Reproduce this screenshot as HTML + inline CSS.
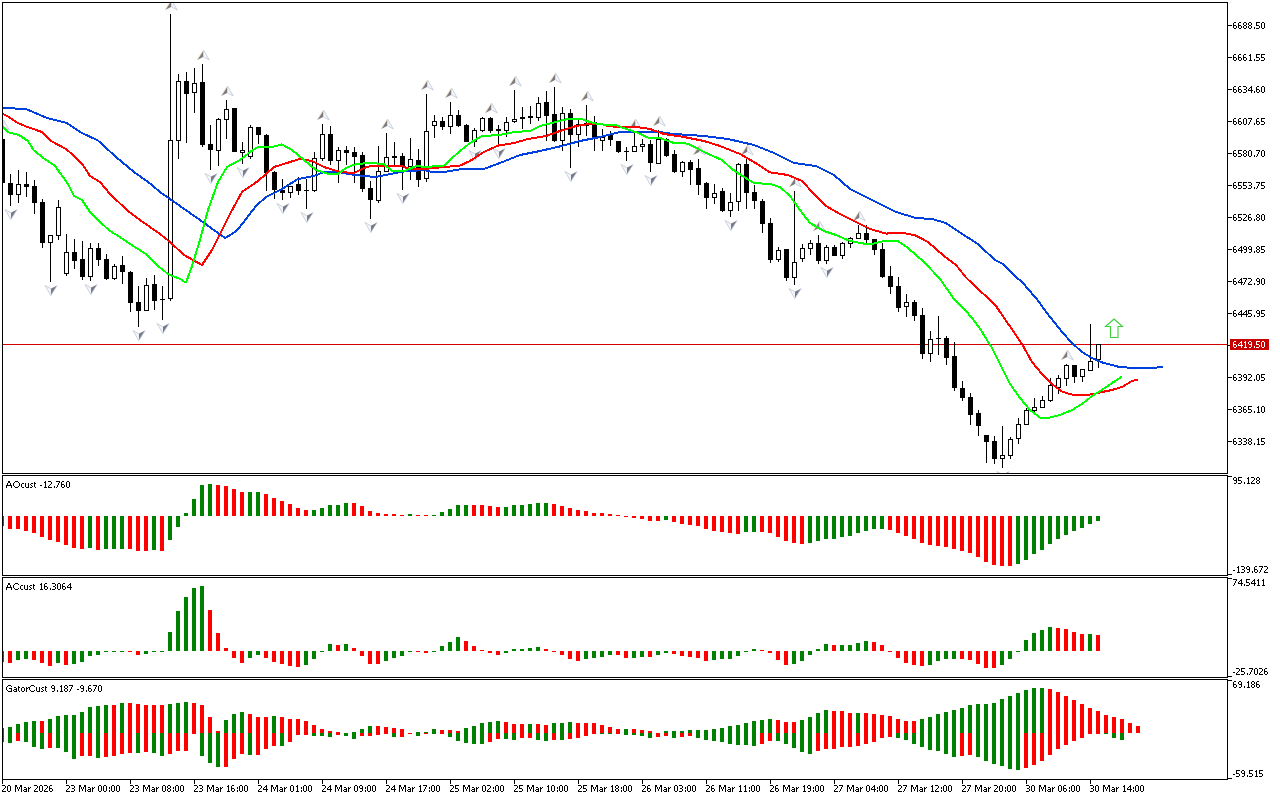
<!DOCTYPE html><html><head><meta charset="utf-8"><title>chart</title><style>html,body{margin:0;padding:0;background:#fff;overflow:hidden}svg{display:block}text{font-family:"Liberation Sans",sans-serif;font-size:10px;fill:#000}</style></head><body>
<svg width="1280" height="800" viewBox="0 0 1280 800">
<defs><clipPath id="cm"><rect x="3" y="3" width="1224" height="470"/></clipPath>
<g id="fu"><path d="M0,0 L-6.3,10 L0,6.8 Z" fill="#7a7a80"/><path d="M0,0 L5.8,10 L0,6.8" fill="#f4f6fa" stroke="#c2c6d8" stroke-width="0.8" stroke-linejoin="round"/><path d="M0,0 L-6.3,10" stroke="#f0d9b0" stroke-width="0.7" fill="none"/></g>
<g id="fd"><path d="M0,0 L6.3,-10 L0,-6.8 Z" fill="#7a7a80"/><path d="M0,0 L-5.8,-10 L0,-6.8" fill="#f4f6fa" stroke="#c2c6d8" stroke-width="0.8" stroke-linejoin="round"/><path d="M0,0 L6.3,-10" stroke="#a9c4f0" stroke-width="0.7" fill="none"/></g>
<path id="g30" d="M1,0h2v1h-2zM0,1h1v1h-1zM3,1h1v1h-1zM0,2h1v1h-1zM3,2h1v1h-1zM0,3h1v1h-1zM3,3h1v1h-1zM0,4h1v1h-1zM3,4h1v1h-1zM0,5h1v1h-1zM3,5h1v1h-1zM1,6h2v1h-2z"/><path id="g31" d="M2,0h1v1h-1zM1,1h2v1h-2zM2,2h1v1h-1zM2,3h1v1h-1zM2,4h1v1h-1zM2,5h1v1h-1zM1,6h3v1h-3z"/><path id="g32" d="M0,0h3v1h-3zM3,1h1v1h-1zM3,2h1v1h-1zM2,3h1v1h-1zM1,4h1v1h-1zM0,5h1v1h-1zM0,6h4v1h-4z"/><path id="g33" d="M0,0h3v1h-3zM3,1h1v1h-1zM3,2h1v1h-1zM1,3h2v1h-2zM3,4h1v1h-1zM3,5h1v1h-1zM0,6h3v1h-3z"/><path id="g34" d="M3,0h1v1h-1zM2,1h2v1h-2zM1,2h1v1h-1zM3,2h1v1h-1zM0,3h1v1h-1zM3,3h1v1h-1zM0,4h5v1h-5zM3,5h1v1h-1zM3,6h1v1h-1z"/><path id="g35" d="M0,0h4v1h-4zM0,1h1v1h-1zM0,2h1v1h-1zM0,3h3v1h-3zM3,4h1v1h-1zM3,5h1v1h-1zM0,6h3v1h-3z"/><path id="g36" d="M1,0h2v1h-2zM0,1h1v1h-1zM0,2h1v1h-1zM0,3h3v1h-3zM0,4h1v1h-1zM3,4h1v1h-1zM0,5h1v1h-1zM3,5h1v1h-1zM1,6h2v1h-2z"/><path id="g37" d="M0,0h4v1h-4zM3,1h1v1h-1zM2,2h1v1h-1zM2,3h1v1h-1zM1,4h1v1h-1zM1,5h1v1h-1zM0,6h1v1h-1z"/><path id="g38" d="M1,0h2v1h-2zM0,1h1v1h-1zM3,1h1v1h-1zM0,2h1v1h-1zM3,2h1v1h-1zM1,3h2v1h-2zM0,4h1v1h-1zM3,4h1v1h-1zM0,5h1v1h-1zM3,5h1v1h-1zM1,6h2v1h-2z"/><path id="g39" d="M1,0h2v1h-2zM0,1h1v1h-1zM3,1h1v1h-1zM0,2h1v1h-1zM3,2h1v1h-1zM1,3h3v1h-3zM3,4h1v1h-1zM3,5h1v1h-1zM1,6h2v1h-2z"/><path id="g2e" d="M1,5h1v1h-1zM1,6h1v1h-1z"/><path id="g2d" d="M0,4h2v1h-2z"/><path id="g3a" d="M1,2h1v1h-1zM1,3h1v1h-1zM1,5h1v1h-1zM1,6h1v1h-1z"/><path id="g4d" d="M0,0h2v1h-2zM5,0h2v1h-2zM0,1h2v1h-2zM5,1h2v1h-2zM0,2h1v1h-1zM2,2h1v1h-1zM4,2h1v1h-1zM6,2h1v1h-1zM0,3h1v1h-1zM2,3h1v1h-1zM4,3h1v1h-1zM6,3h1v1h-1zM0,4h1v1h-1zM3,4h1v1h-1zM6,4h1v1h-1zM0,5h1v1h-1zM3,5h1v1h-1zM6,5h1v1h-1zM0,6h1v1h-1zM6,6h1v1h-1z"/><path id="g61" d="M1,2h2v1h-2zM3,3h1v1h-1zM1,4h3v1h-3zM0,5h1v1h-1zM3,5h1v1h-1zM1,6h3v1h-3z"/><path id="g72" d="M0,2h1v1h-1zM2,2h1v1h-1zM0,3h2v1h-2zM0,4h1v1h-1zM0,5h1v1h-1zM0,6h1v1h-1z"/><path id="g41" d="M2,0h2v1h-2zM2,1h2v1h-2zM1,2h1v1h-1zM4,2h1v1h-1zM1,3h1v1h-1zM4,3h1v1h-1zM0,4h6v1h-6zM0,5h1v1h-1zM5,5h1v1h-1zM0,6h1v1h-1zM5,6h1v1h-1z"/><path id="g4f" d="M2,0h3v1h-3zM1,1h1v1h-1zM5,1h1v1h-1zM0,2h1v1h-1zM6,2h1v1h-1zM0,3h1v1h-1zM6,3h1v1h-1zM0,4h1v1h-1zM6,4h1v1h-1zM1,5h1v1h-1zM5,5h1v1h-1zM2,6h3v1h-3z"/><path id="g43" d="M2,0h3v1h-3zM1,1h1v1h-1zM5,1h1v1h-1zM0,2h1v1h-1zM0,3h1v1h-1zM0,4h1v1h-1zM1,5h1v1h-1zM5,5h1v1h-1zM2,6h3v1h-3z"/><path id="g47" d="M2,0h3v1h-3zM1,1h1v1h-1zM5,1h1v1h-1zM0,2h1v1h-1zM0,3h1v1h-1zM3,3h3v1h-3zM0,4h1v1h-1zM5,4h1v1h-1zM1,5h1v1h-1zM5,5h1v1h-1zM2,6h4v1h-4z"/><path id="g63" d="M1,2h2v1h-2zM0,3h1v1h-1zM0,4h1v1h-1zM0,5h1v1h-1zM1,6h2v1h-2z"/><path id="g75" d="M0,2h1v1h-1zM3,2h1v1h-1zM0,3h1v1h-1zM3,3h1v1h-1zM0,4h1v1h-1zM3,4h1v1h-1zM0,5h1v1h-1zM3,5h1v1h-1zM1,6h3v1h-3z"/><path id="g73" d="M1,2h2v1h-2zM0,3h1v1h-1zM1,4h1v1h-1zM2,5h1v1h-1zM0,6h2v1h-2z"/><path id="g74" d="M0,1h1v1h-1zM0,2h2v1h-2zM0,3h1v1h-1zM0,4h1v1h-1zM0,5h1v1h-1zM1,6h1v1h-1z"/><path id="g6f" d="M1,2h2v1h-2zM0,3h1v1h-1zM3,3h1v1h-1zM0,4h1v1h-1zM3,4h1v1h-1zM0,5h1v1h-1zM3,5h1v1h-1zM1,6h2v1h-2z"/>
</defs>
<rect width="1280" height="800" fill="#fff"/>
<g shape-rendering="crispEdges">
<rect x="2" y="2" width="1226" height="1" fill="#000"/>
<rect x="2" y="473" width="1226" height="1" fill="#000"/>
<rect x="2" y="2" width="1" height="472" fill="#000"/>
<rect x="1227" y="2" width="1" height="472" fill="#000"/>
<rect x="2" y="475" width="1226" height="1" fill="#000"/>
<rect x="2" y="575" width="1226" height="1" fill="#000"/>
<rect x="2" y="475" width="1" height="101" fill="#000"/>
<rect x="1227" y="475" width="1" height="101" fill="#000"/>
<rect x="2" y="577" width="1226" height="1" fill="#000"/>
<rect x="2" y="677" width="1226" height="1" fill="#000"/>
<rect x="2" y="577" width="1" height="101" fill="#000"/>
<rect x="1227" y="577" width="1" height="101" fill="#000"/>
<rect x="2" y="679" width="1226" height="1" fill="#000"/>
<rect x="2" y="779" width="1226" height="1" fill="#000"/>
<rect x="2" y="679" width="1" height="101" fill="#000"/>
<rect x="1227" y="679" width="1" height="101" fill="#000"/>
<rect x="3" y="344" width="1224" height="1" fill="#d40000"/>
<g clip-path="url(#cm)">
<rect x="2" y="134" width="1" height="49" fill="#000"/>
<rect x="0" y="139" width="5" height="44" fill="#000"/>
<rect x="10" y="174" width="1" height="32" fill="#000"/>
<rect x="8" y="183" width="5" height="12" fill="#000"/>
<rect x="18" y="170" width="1" height="33" fill="#000"/>
<rect x="16" y="184" width="5" height="11" fill="#000"/>
<rect x="17" y="185" width="3" height="9" fill="#fff"/>
<rect x="26" y="172" width="1" height="25" fill="#000"/>
<rect x="24" y="184" width="5" height="3" fill="#000"/>
<rect x="34" y="180" width="1" height="34" fill="#000"/>
<rect x="32" y="186" width="5" height="17" fill="#000"/>
<rect x="42" y="199" width="1" height="49" fill="#000"/>
<rect x="40" y="202" width="5" height="41" fill="#000"/>
<rect x="50" y="235" width="1" height="47" fill="#000"/>
<rect x="48" y="235" width="5" height="8" fill="#000"/>
<rect x="49" y="236" width="3" height="6" fill="#fff"/>
<rect x="58" y="200" width="1" height="40" fill="#000"/>
<rect x="56" y="207" width="5" height="29" fill="#000"/>
<rect x="57" y="208" width="3" height="27" fill="#fff"/>
<rect x="66" y="234" width="1" height="42" fill="#000"/>
<rect x="64" y="252" width="5" height="22" fill="#000"/>
<rect x="65" y="253" width="3" height="20" fill="#fff"/>
<rect x="74" y="239" width="1" height="30" fill="#000"/>
<rect x="72" y="252" width="5" height="9" fill="#000"/>
<rect x="82" y="241" width="1" height="39" fill="#000"/>
<rect x="80" y="259" width="5" height="18" fill="#000"/>
<rect x="90" y="243" width="1" height="38" fill="#000"/>
<rect x="88" y="248" width="5" height="29" fill="#000"/>
<rect x="89" y="249" width="3" height="27" fill="#fff"/>
<rect x="98" y="243" width="1" height="23" fill="#000"/>
<rect x="96" y="248" width="5" height="12" fill="#000"/>
<rect x="106" y="254" width="1" height="26" fill="#000"/>
<rect x="104" y="259" width="5" height="20" fill="#000"/>
<rect x="114" y="264" width="1" height="16" fill="#000"/>
<rect x="112" y="266" width="5" height="13" fill="#000"/>
<rect x="113" y="267" width="3" height="11" fill="#fff"/>
<rect x="122" y="256" width="1" height="28" fill="#000"/>
<rect x="120" y="265" width="5" height="7" fill="#000"/>
<rect x="130" y="271" width="1" height="41" fill="#000"/>
<rect x="128" y="272" width="5" height="31" fill="#000"/>
<rect x="138" y="286" width="1" height="41" fill="#000"/>
<rect x="136" y="302" width="5" height="9" fill="#000"/>
<rect x="146" y="278" width="1" height="33" fill="#000"/>
<rect x="144" y="285" width="5" height="26" fill="#000"/>
<rect x="145" y="286" width="3" height="24" fill="#fff"/>
<rect x="154" y="275" width="1" height="35" fill="#000"/>
<rect x="152" y="284" width="5" height="17" fill="#000"/>
<rect x="162" y="286" width="1" height="34" fill="#000"/>
<rect x="160" y="299" width="5" height="1" fill="#000"/>
<rect x="170" y="14" width="1" height="287" fill="#000"/>
<rect x="168" y="140" width="5" height="159" fill="#000"/>
<rect x="169" y="141" width="3" height="157" fill="#fff"/>
<rect x="178" y="74" width="1" height="85" fill="#000"/>
<rect x="176" y="81" width="5" height="60" fill="#000"/>
<rect x="177" y="82" width="3" height="58" fill="#fff"/>
<rect x="186" y="72" width="1" height="71" fill="#000"/>
<rect x="184" y="81" width="5" height="13" fill="#000"/>
<rect x="194" y="68" width="1" height="45" fill="#000"/>
<rect x="192" y="83" width="5" height="10" fill="#000"/>
<rect x="193" y="84" width="3" height="8" fill="#fff"/>
<rect x="202" y="64" width="1" height="83" fill="#000"/>
<rect x="200" y="82" width="5" height="63" fill="#000"/>
<rect x="210" y="125" width="1" height="45" fill="#000"/>
<rect x="208" y="144" width="5" height="6" fill="#000"/>
<rect x="218" y="118" width="1" height="48" fill="#000"/>
<rect x="216" y="119" width="5" height="32" fill="#000"/>
<rect x="217" y="120" width="3" height="30" fill="#fff"/>
<rect x="226" y="100" width="1" height="39" fill="#000"/>
<rect x="224" y="109" width="5" height="11" fill="#000"/>
<rect x="225" y="110" width="3" height="9" fill="#fff"/>
<rect x="234" y="108" width="1" height="44" fill="#000"/>
<rect x="232" y="108" width="5" height="44" fill="#000"/>
<rect x="242" y="142" width="1" height="22" fill="#000"/>
<rect x="240" y="150" width="5" height="3" fill="#000"/>
<rect x="241" y="151" width="3" height="1" fill="#fff"/>
<rect x="250" y="125" width="1" height="34" fill="#000"/>
<rect x="248" y="127" width="5" height="30" fill="#000"/>
<rect x="249" y="128" width="3" height="28" fill="#fff"/>
<rect x="258" y="127" width="1" height="17" fill="#000"/>
<rect x="256" y="127" width="5" height="8" fill="#000"/>
<rect x="266" y="134" width="1" height="57" fill="#000"/>
<rect x="264" y="135" width="5" height="38" fill="#000"/>
<rect x="274" y="171" width="1" height="28" fill="#000"/>
<rect x="272" y="172" width="5" height="18" fill="#000"/>
<rect x="282" y="179" width="1" height="21" fill="#000"/>
<rect x="280" y="190" width="5" height="3" fill="#000"/>
<rect x="290" y="186" width="1" height="12" fill="#000"/>
<rect x="288" y="186" width="5" height="7" fill="#000"/>
<rect x="289" y="187" width="3" height="5" fill="#fff"/>
<rect x="298" y="177" width="1" height="18" fill="#000"/>
<rect x="296" y="184" width="5" height="7" fill="#000"/>
<rect x="306" y="179" width="1" height="30" fill="#000"/>
<rect x="304" y="190" width="5" height="1" fill="#000"/>
<rect x="314" y="152" width="1" height="40" fill="#000"/>
<rect x="312" y="158" width="5" height="33" fill="#000"/>
<rect x="313" y="159" width="3" height="31" fill="#fff"/>
<rect x="322" y="124" width="1" height="37" fill="#000"/>
<rect x="320" y="134" width="5" height="25" fill="#000"/>
<rect x="321" y="135" width="3" height="23" fill="#fff"/>
<rect x="330" y="126" width="1" height="39" fill="#000"/>
<rect x="328" y="134" width="5" height="27" fill="#000"/>
<rect x="338" y="147" width="1" height="36" fill="#000"/>
<rect x="336" y="150" width="5" height="11" fill="#000"/>
<rect x="337" y="151" width="3" height="9" fill="#fff"/>
<rect x="346" y="146" width="1" height="19" fill="#000"/>
<rect x="344" y="150" width="5" height="3" fill="#000"/>
<rect x="354" y="147" width="1" height="36" fill="#000"/>
<rect x="352" y="152" width="5" height="5" fill="#000"/>
<rect x="362" y="152" width="1" height="40" fill="#000"/>
<rect x="360" y="155" width="5" height="34" fill="#000"/>
<rect x="370" y="181" width="1" height="38" fill="#000"/>
<rect x="368" y="188" width="5" height="12" fill="#000"/>
<rect x="378" y="146" width="1" height="57" fill="#000"/>
<rect x="376" y="171" width="5" height="30" fill="#000"/>
<rect x="377" y="172" width="3" height="28" fill="#fff"/>
<rect x="386" y="133" width="1" height="39" fill="#000"/>
<rect x="384" y="157" width="5" height="15" fill="#000"/>
<rect x="385" y="158" width="3" height="13" fill="#fff"/>
<rect x="394" y="142" width="1" height="23" fill="#000"/>
<rect x="392" y="156" width="5" height="2" fill="#000"/>
<rect x="402" y="153" width="1" height="37" fill="#000"/>
<rect x="400" y="156" width="5" height="11" fill="#000"/>
<rect x="410" y="138" width="1" height="42" fill="#000"/>
<rect x="408" y="159" width="5" height="8" fill="#000"/>
<rect x="409" y="160" width="3" height="6" fill="#fff"/>
<rect x="418" y="149" width="1" height="38" fill="#000"/>
<rect x="416" y="160" width="5" height="20" fill="#000"/>
<rect x="426" y="94" width="1" height="88" fill="#000"/>
<rect x="424" y="131" width="5" height="48" fill="#000"/>
<rect x="425" y="132" width="3" height="46" fill="#fff"/>
<rect x="434" y="115" width="1" height="23" fill="#000"/>
<rect x="432" y="121" width="5" height="5" fill="#000"/>
<rect x="433" y="122" width="3" height="3" fill="#fff"/>
<rect x="442" y="117" width="1" height="13" fill="#000"/>
<rect x="440" y="121" width="5" height="6" fill="#000"/>
<rect x="450" y="102" width="1" height="32" fill="#000"/>
<rect x="448" y="115" width="5" height="12" fill="#000"/>
<rect x="449" y="116" width="3" height="10" fill="#fff"/>
<rect x="458" y="110" width="1" height="17" fill="#000"/>
<rect x="456" y="115" width="5" height="11" fill="#000"/>
<rect x="466" y="124" width="1" height="18" fill="#000"/>
<rect x="464" y="125" width="5" height="17" fill="#000"/>
<rect x="474" y="128" width="1" height="19" fill="#000"/>
<rect x="472" y="130" width="5" height="12" fill="#000"/>
<rect x="473" y="131" width="3" height="10" fill="#fff"/>
<rect x="482" y="117" width="1" height="15" fill="#000"/>
<rect x="480" y="118" width="5" height="13" fill="#000"/>
<rect x="481" y="119" width="3" height="11" fill="#fff"/>
<rect x="490" y="117" width="1" height="16" fill="#000"/>
<rect x="488" y="118" width="5" height="13" fill="#000"/>
<rect x="498" y="125" width="1" height="20" fill="#000"/>
<rect x="496" y="129" width="5" height="2" fill="#000"/>
<rect x="506" y="117" width="1" height="20" fill="#000"/>
<rect x="504" y="122" width="5" height="9" fill="#000"/>
<rect x="505" y="123" width="3" height="7" fill="#fff"/>
<rect x="514" y="90" width="1" height="33" fill="#000"/>
<rect x="512" y="119" width="5" height="3" fill="#000"/>
<rect x="513" y="120" width="3" height="1" fill="#fff"/>
<rect x="522" y="107" width="1" height="22" fill="#000"/>
<rect x="520" y="117" width="5" height="2" fill="#000"/>
<rect x="530" y="106" width="1" height="18" fill="#000"/>
<rect x="528" y="116" width="5" height="2" fill="#000"/>
<rect x="538" y="97" width="1" height="24" fill="#000"/>
<rect x="536" y="103" width="5" height="15" fill="#000"/>
<rect x="537" y="104" width="3" height="13" fill="#fff"/>
<rect x="546" y="91" width="1" height="50" fill="#000"/>
<rect x="544" y="102" width="5" height="14" fill="#000"/>
<rect x="554" y="87" width="1" height="55" fill="#000"/>
<rect x="552" y="114" width="5" height="27" fill="#000"/>
<rect x="562" y="107" width="1" height="44" fill="#000"/>
<rect x="560" y="113" width="5" height="28" fill="#000"/>
<rect x="561" y="114" width="3" height="26" fill="#fff"/>
<rect x="570" y="109" width="1" height="59" fill="#000"/>
<rect x="568" y="113" width="5" height="22" fill="#000"/>
<rect x="578" y="120" width="1" height="27" fill="#000"/>
<rect x="576" y="124" width="5" height="11" fill="#000"/>
<rect x="577" y="125" width="3" height="9" fill="#fff"/>
<rect x="586" y="105" width="1" height="31" fill="#000"/>
<rect x="584" y="123" width="5" height="3" fill="#000"/>
<rect x="594" y="116" width="1" height="35" fill="#000"/>
<rect x="592" y="122" width="5" height="16" fill="#000"/>
<rect x="602" y="129" width="1" height="22" fill="#000"/>
<rect x="600" y="137" width="5" height="4" fill="#000"/>
<rect x="601" y="138" width="3" height="2" fill="#fff"/>
<rect x="610" y="131" width="1" height="15" fill="#000"/>
<rect x="608" y="135" width="5" height="5" fill="#000"/>
<rect x="618" y="141" width="1" height="12" fill="#000"/>
<rect x="616" y="141" width="5" height="11" fill="#000"/>
<rect x="626" y="147" width="1" height="14" fill="#000"/>
<rect x="624" y="151" width="5" height="1" fill="#000"/>
<rect x="634" y="133" width="1" height="19" fill="#000"/>
<rect x="632" y="146" width="5" height="6" fill="#000"/>
<rect x="633" y="147" width="3" height="4" fill="#fff"/>
<rect x="642" y="139" width="1" height="13" fill="#000"/>
<rect x="640" y="144" width="5" height="3" fill="#000"/>
<rect x="641" y="145" width="3" height="1" fill="#fff"/>
<rect x="650" y="140" width="1" height="32" fill="#000"/>
<rect x="648" y="144" width="5" height="19" fill="#000"/>
<rect x="658" y="130" width="1" height="34" fill="#000"/>
<rect x="656" y="139" width="5" height="25" fill="#000"/>
<rect x="657" y="140" width="3" height="23" fill="#fff"/>
<rect x="666" y="138" width="1" height="19" fill="#000"/>
<rect x="664" y="139" width="5" height="17" fill="#000"/>
<rect x="674" y="150" width="1" height="23" fill="#000"/>
<rect x="672" y="154" width="5" height="18" fill="#000"/>
<rect x="682" y="161" width="1" height="16" fill="#000"/>
<rect x="680" y="162" width="5" height="10" fill="#000"/>
<rect x="681" y="163" width="3" height="8" fill="#fff"/>
<rect x="690" y="160" width="1" height="25" fill="#000"/>
<rect x="688" y="162" width="5" height="8" fill="#000"/>
<rect x="698" y="159" width="1" height="36" fill="#000"/>
<rect x="696" y="168" width="5" height="17" fill="#000"/>
<rect x="706" y="182" width="1" height="27" fill="#000"/>
<rect x="704" y="183" width="5" height="15" fill="#000"/>
<rect x="714" y="184" width="1" height="20" fill="#000"/>
<rect x="712" y="193" width="5" height="5" fill="#000"/>
<rect x="713" y="194" width="3" height="3" fill="#fff"/>
<rect x="722" y="188" width="1" height="24" fill="#000"/>
<rect x="720" y="191" width="5" height="20" fill="#000"/>
<rect x="730" y="193" width="1" height="24" fill="#000"/>
<rect x="728" y="202" width="5" height="9" fill="#000"/>
<rect x="729" y="203" width="3" height="7" fill="#fff"/>
<rect x="738" y="163" width="1" height="48" fill="#000"/>
<rect x="736" y="164" width="5" height="38" fill="#000"/>
<rect x="737" y="165" width="3" height="36" fill="#fff"/>
<rect x="746" y="159" width="1" height="50" fill="#000"/>
<rect x="744" y="164" width="5" height="29" fill="#000"/>
<rect x="754" y="185" width="1" height="24" fill="#000"/>
<rect x="752" y="192" width="5" height="9" fill="#000"/>
<rect x="762" y="199" width="1" height="34" fill="#000"/>
<rect x="760" y="201" width="5" height="23" fill="#000"/>
<rect x="770" y="218" width="1" height="45" fill="#000"/>
<rect x="768" y="223" width="5" height="37" fill="#000"/>
<rect x="778" y="247" width="1" height="15" fill="#000"/>
<rect x="776" y="250" width="5" height="10" fill="#000"/>
<rect x="777" y="251" width="3" height="8" fill="#fff"/>
<rect x="786" y="249" width="1" height="32" fill="#000"/>
<rect x="784" y="249" width="5" height="29" fill="#000"/>
<rect x="794" y="191" width="1" height="94" fill="#000"/>
<rect x="792" y="262" width="5" height="16" fill="#000"/>
<rect x="793" y="263" width="3" height="14" fill="#fff"/>
<rect x="802" y="244" width="1" height="18" fill="#000"/>
<rect x="800" y="248" width="5" height="11" fill="#000"/>
<rect x="801" y="249" width="3" height="9" fill="#fff"/>
<rect x="810" y="240" width="1" height="15" fill="#000"/>
<rect x="808" y="243" width="5" height="6" fill="#000"/>
<rect x="809" y="244" width="3" height="4" fill="#fff"/>
<rect x="818" y="235" width="1" height="29" fill="#000"/>
<rect x="816" y="243" width="5" height="18" fill="#000"/>
<rect x="826" y="245" width="1" height="19" fill="#000"/>
<rect x="824" y="247" width="5" height="14" fill="#000"/>
<rect x="825" y="248" width="3" height="12" fill="#fff"/>
<rect x="834" y="245" width="1" height="11" fill="#000"/>
<rect x="832" y="247" width="5" height="9" fill="#000"/>
<rect x="842" y="242" width="1" height="17" fill="#000"/>
<rect x="840" y="243" width="5" height="13" fill="#000"/>
<rect x="841" y="244" width="3" height="11" fill="#fff"/>
<rect x="850" y="237" width="1" height="11" fill="#000"/>
<rect x="848" y="238" width="5" height="6" fill="#000"/>
<rect x="849" y="239" width="3" height="4" fill="#fff"/>
<rect x="858" y="225" width="1" height="14" fill="#000"/>
<rect x="856" y="233" width="5" height="6" fill="#000"/>
<rect x="857" y="234" width="3" height="4" fill="#fff"/>
<rect x="866" y="225" width="1" height="19" fill="#000"/>
<rect x="864" y="233" width="5" height="7" fill="#000"/>
<rect x="874" y="239" width="1" height="16" fill="#000"/>
<rect x="872" y="239" width="5" height="11" fill="#000"/>
<rect x="882" y="243" width="1" height="35" fill="#000"/>
<rect x="880" y="249" width="5" height="28" fill="#000"/>
<rect x="890" y="266" width="1" height="28" fill="#000"/>
<rect x="888" y="276" width="5" height="11" fill="#000"/>
<rect x="898" y="277" width="1" height="35" fill="#000"/>
<rect x="896" y="286" width="5" height="22" fill="#000"/>
<rect x="906" y="294" width="1" height="23" fill="#000"/>
<rect x="904" y="302" width="5" height="5" fill="#000"/>
<rect x="905" y="303" width="3" height="3" fill="#fff"/>
<rect x="914" y="300" width="1" height="21" fill="#000"/>
<rect x="912" y="302" width="5" height="14" fill="#000"/>
<rect x="922" y="308" width="1" height="51" fill="#000"/>
<rect x="920" y="315" width="5" height="39" fill="#000"/>
<rect x="930" y="331" width="1" height="31" fill="#000"/>
<rect x="928" y="339" width="5" height="15" fill="#000"/>
<rect x="929" y="340" width="3" height="13" fill="#fff"/>
<rect x="938" y="316" width="1" height="39" fill="#000"/>
<rect x="936" y="338" width="5" height="1" fill="#000"/>
<rect x="946" y="336" width="1" height="29" fill="#000"/>
<rect x="944" y="338" width="5" height="20" fill="#000"/>
<rect x="954" y="342" width="1" height="49" fill="#000"/>
<rect x="952" y="356" width="5" height="32" fill="#000"/>
<rect x="962" y="381" width="1" height="20" fill="#000"/>
<rect x="960" y="388" width="5" height="10" fill="#000"/>
<rect x="970" y="393" width="1" height="32" fill="#000"/>
<rect x="968" y="397" width="5" height="18" fill="#000"/>
<rect x="978" y="410" width="1" height="26" fill="#000"/>
<rect x="976" y="413" width="5" height="13" fill="#000"/>
<rect x="986" y="435" width="1" height="28" fill="#000"/>
<rect x="984" y="435" width="5" height="7" fill="#000"/>
<rect x="994" y="436" width="1" height="28" fill="#000"/>
<rect x="992" y="441" width="5" height="18" fill="#000"/>
<rect x="1002" y="426" width="1" height="42" fill="#000"/>
<rect x="1000" y="455" width="5" height="4" fill="#000"/>
<rect x="1001" y="456" width="3" height="2" fill="#fff"/>
<rect x="1010" y="437" width="1" height="22" fill="#000"/>
<rect x="1008" y="439" width="5" height="17" fill="#000"/>
<rect x="1009" y="440" width="3" height="15" fill="#fff"/>
<rect x="1018" y="418" width="1" height="26" fill="#000"/>
<rect x="1016" y="424" width="5" height="15" fill="#000"/>
<rect x="1017" y="425" width="3" height="13" fill="#fff"/>
<rect x="1026" y="408" width="1" height="17" fill="#000"/>
<rect x="1024" y="410" width="5" height="15" fill="#000"/>
<rect x="1025" y="411" width="3" height="13" fill="#fff"/>
<rect x="1034" y="398" width="1" height="15" fill="#000"/>
<rect x="1032" y="407" width="5" height="4" fill="#000"/>
<rect x="1033" y="408" width="3" height="2" fill="#fff"/>
<rect x="1042" y="396" width="1" height="12" fill="#000"/>
<rect x="1040" y="400" width="5" height="8" fill="#000"/>
<rect x="1041" y="401" width="3" height="6" fill="#fff"/>
<rect x="1050" y="378" width="1" height="24" fill="#000"/>
<rect x="1048" y="385" width="5" height="16" fill="#000"/>
<rect x="1049" y="386" width="3" height="14" fill="#fff"/>
<rect x="1058" y="375" width="1" height="19" fill="#000"/>
<rect x="1056" y="378" width="5" height="10" fill="#000"/>
<rect x="1057" y="379" width="3" height="8" fill="#fff"/>
<rect x="1066" y="364" width="1" height="22" fill="#000"/>
<rect x="1064" y="365" width="5" height="14" fill="#000"/>
<rect x="1065" y="366" width="3" height="12" fill="#fff"/>
<rect x="1074" y="365" width="1" height="18" fill="#000"/>
<rect x="1072" y="365" width="5" height="12" fill="#000"/>
<rect x="1082" y="369" width="1" height="13" fill="#000"/>
<rect x="1080" y="369" width="5" height="8" fill="#000"/>
<rect x="1081" y="370" width="3" height="6" fill="#fff"/>
<rect x="1090" y="324" width="1" height="47" fill="#000"/>
<rect x="1088" y="361" width="5" height="10" fill="#000"/>
<rect x="1089" y="362" width="3" height="8" fill="#fff"/>
<rect x="1098" y="344" width="1" height="24" fill="#000"/>
<rect x="1096" y="344" width="5" height="16" fill="#000"/>
<rect x="1097" y="345" width="3" height="14" fill="#fff"/>
</g>
<rect x="0" y="516" width="4" height="10" fill="#ff0000"/>
<rect x="8" y="516" width="4" height="13" fill="#ff0000"/>
<rect x="16" y="516" width="4" height="13" fill="#ff0000"/>
<rect x="24" y="516" width="4" height="15" fill="#ff0000"/>
<rect x="32" y="516" width="4" height="17" fill="#ff0000"/>
<rect x="40" y="516" width="4" height="21" fill="#ff0000"/>
<rect x="48" y="516" width="4" height="24" fill="#ff0000"/>
<rect x="56" y="516" width="4" height="26" fill="#ff0000"/>
<rect x="64" y="516" width="4" height="29" fill="#ff0000"/>
<rect x="72" y="516" width="4" height="32" fill="#ff0000"/>
<rect x="80" y="516" width="4" height="33" fill="#ff0000"/>
<rect x="88" y="516" width="4" height="32" fill="#008000"/>
<rect x="96" y="516" width="4" height="34" fill="#ff0000"/>
<rect x="104" y="516" width="4" height="33" fill="#008000"/>
<rect x="112" y="516" width="4" height="33" fill="#008000"/>
<rect x="120" y="516" width="4" height="33" fill="#008000"/>
<rect x="128" y="516" width="4" height="33" fill="#ff0000"/>
<rect x="136" y="516" width="4" height="35" fill="#ff0000"/>
<rect x="144" y="516" width="4" height="35" fill="#ff0000"/>
<rect x="152" y="516" width="4" height="34" fill="#008000"/>
<rect x="160" y="516" width="4" height="35" fill="#ff0000"/>
<rect x="168" y="516" width="4" height="24" fill="#008000"/>
<rect x="176" y="516" width="4" height="11" fill="#008000"/>
<rect x="184" y="513" width="4" height="3" fill="#008000"/>
<rect x="192" y="499" width="4" height="17" fill="#008000"/>
<rect x="200" y="485" width="4" height="31" fill="#008000"/>
<rect x="208" y="484" width="4" height="32" fill="#008000"/>
<rect x="216" y="485" width="4" height="31" fill="#ff0000"/>
<rect x="224" y="486" width="4" height="30" fill="#ff0000"/>
<rect x="232" y="489" width="4" height="27" fill="#ff0000"/>
<rect x="240" y="492" width="4" height="24" fill="#ff0000"/>
<rect x="248" y="492" width="4" height="24" fill="#008000"/>
<rect x="256" y="492" width="4" height="24" fill="#008000"/>
<rect x="264" y="494" width="4" height="22" fill="#ff0000"/>
<rect x="272" y="498" width="4" height="18" fill="#ff0000"/>
<rect x="280" y="501" width="4" height="15" fill="#ff0000"/>
<rect x="288" y="504" width="4" height="12" fill="#ff0000"/>
<rect x="296" y="508" width="4" height="8" fill="#ff0000"/>
<rect x="304" y="510" width="4" height="6" fill="#ff0000"/>
<rect x="312" y="510" width="4" height="6" fill="#008000"/>
<rect x="320" y="508" width="4" height="8" fill="#008000"/>
<rect x="328" y="505" width="4" height="11" fill="#008000"/>
<rect x="336" y="505" width="4" height="11" fill="#008000"/>
<rect x="344" y="503" width="4" height="13" fill="#008000"/>
<rect x="352" y="503" width="4" height="13" fill="#ff0000"/>
<rect x="360" y="506" width="4" height="10" fill="#ff0000"/>
<rect x="368" y="511" width="4" height="5" fill="#ff0000"/>
<rect x="376" y="513" width="4" height="3" fill="#ff0000"/>
<rect x="384" y="514" width="4" height="2" fill="#ff0000"/>
<rect x="392" y="514" width="4" height="2" fill="#ff0000"/>
<rect x="400" y="515" width="4" height="1" fill="#ff0000"/>
<rect x="408" y="514" width="4" height="2" fill="#008000"/>
<rect x="416" y="515" width="4" height="1" fill="#ff0000"/>
<rect x="424" y="515" width="4" height="1" fill="#ff0000"/>
<rect x="432" y="515" width="4" height="1" fill="#008000"/>
<rect x="440" y="512" width="4" height="4" fill="#008000"/>
<rect x="448" y="509" width="4" height="7" fill="#008000"/>
<rect x="456" y="505" width="4" height="11" fill="#008000"/>
<rect x="464" y="505" width="4" height="11" fill="#008000"/>
<rect x="472" y="505" width="4" height="11" fill="#ff0000"/>
<rect x="480" y="505" width="4" height="11" fill="#ff0000"/>
<rect x="488" y="506" width="4" height="10" fill="#ff0000"/>
<rect x="496" y="507" width="4" height="9" fill="#ff0000"/>
<rect x="504" y="507" width="4" height="9" fill="#008000"/>
<rect x="512" y="505" width="4" height="11" fill="#008000"/>
<rect x="520" y="505" width="4" height="11" fill="#008000"/>
<rect x="528" y="504" width="4" height="12" fill="#008000"/>
<rect x="536" y="503" width="4" height="13" fill="#008000"/>
<rect x="544" y="503" width="4" height="13" fill="#008000"/>
<rect x="552" y="504" width="4" height="12" fill="#ff0000"/>
<rect x="560" y="506" width="4" height="10" fill="#ff0000"/>
<rect x="568" y="508" width="4" height="8" fill="#ff0000"/>
<rect x="576" y="510" width="4" height="6" fill="#ff0000"/>
<rect x="584" y="511" width="4" height="5" fill="#ff0000"/>
<rect x="592" y="513" width="4" height="3" fill="#ff0000"/>
<rect x="600" y="513" width="4" height="3" fill="#ff0000"/>
<rect x="608" y="514" width="4" height="2" fill="#ff0000"/>
<rect x="616" y="515" width="4" height="1" fill="#ff0000"/>
<rect x="624" y="516" width="4" height="1" fill="#ff0000"/>
<rect x="632" y="516" width="4" height="2" fill="#ff0000"/>
<rect x="640" y="516" width="4" height="3" fill="#ff0000"/>
<rect x="648" y="516" width="4" height="5" fill="#ff0000"/>
<rect x="656" y="516" width="4" height="5" fill="#ff0000"/>
<rect x="664" y="516" width="4" height="4" fill="#008000"/>
<rect x="672" y="516" width="4" height="6" fill="#ff0000"/>
<rect x="680" y="516" width="4" height="8" fill="#ff0000"/>
<rect x="688" y="516" width="4" height="9" fill="#ff0000"/>
<rect x="696" y="516" width="4" height="10" fill="#ff0000"/>
<rect x="704" y="516" width="4" height="13" fill="#ff0000"/>
<rect x="712" y="516" width="4" height="15" fill="#ff0000"/>
<rect x="720" y="516" width="4" height="16" fill="#ff0000"/>
<rect x="728" y="516" width="4" height="17" fill="#ff0000"/>
<rect x="736" y="516" width="4" height="18" fill="#ff0000"/>
<rect x="744" y="516" width="4" height="16" fill="#008000"/>
<rect x="752" y="516" width="4" height="16" fill="#008000"/>
<rect x="760" y="516" width="4" height="16" fill="#ff0000"/>
<rect x="768" y="516" width="4" height="17" fill="#ff0000"/>
<rect x="776" y="516" width="4" height="21" fill="#ff0000"/>
<rect x="784" y="516" width="4" height="25" fill="#ff0000"/>
<rect x="792" y="516" width="4" height="27" fill="#ff0000"/>
<rect x="800" y="516" width="4" height="28" fill="#ff0000"/>
<rect x="808" y="516" width="4" height="27" fill="#008000"/>
<rect x="816" y="516" width="4" height="25" fill="#008000"/>
<rect x="824" y="516" width="4" height="23" fill="#008000"/>
<rect x="832" y="516" width="4" height="23" fill="#008000"/>
<rect x="840" y="516" width="4" height="21" fill="#008000"/>
<rect x="848" y="516" width="4" height="20" fill="#008000"/>
<rect x="856" y="516" width="4" height="17" fill="#008000"/>
<rect x="864" y="516" width="4" height="15" fill="#008000"/>
<rect x="872" y="516" width="4" height="13" fill="#008000"/>
<rect x="880" y="516" width="4" height="13" fill="#008000"/>
<rect x="888" y="516" width="4" height="14" fill="#ff0000"/>
<rect x="896" y="516" width="4" height="17" fill="#ff0000"/>
<rect x="904" y="516" width="4" height="20" fill="#ff0000"/>
<rect x="912" y="516" width="4" height="23" fill="#ff0000"/>
<rect x="920" y="516" width="4" height="27" fill="#ff0000"/>
<rect x="928" y="516" width="4" height="29" fill="#ff0000"/>
<rect x="936" y="516" width="4" height="30" fill="#ff0000"/>
<rect x="944" y="516" width="4" height="31" fill="#ff0000"/>
<rect x="952" y="516" width="4" height="33" fill="#ff0000"/>
<rect x="960" y="516" width="4" height="35" fill="#ff0000"/>
<rect x="968" y="516" width="4" height="37" fill="#ff0000"/>
<rect x="976" y="516" width="4" height="41" fill="#ff0000"/>
<rect x="984" y="516" width="4" height="46" fill="#ff0000"/>
<rect x="992" y="516" width="4" height="49" fill="#ff0000"/>
<rect x="1000" y="516" width="4" height="50" fill="#ff0000"/>
<rect x="1008" y="516" width="4" height="50" fill="#ff0000"/>
<rect x="1016" y="516" width="4" height="48" fill="#008000"/>
<rect x="1024" y="516" width="4" height="44" fill="#008000"/>
<rect x="1032" y="516" width="4" height="38" fill="#008000"/>
<rect x="1040" y="516" width="4" height="34" fill="#008000"/>
<rect x="1048" y="516" width="4" height="28" fill="#008000"/>
<rect x="1056" y="516" width="4" height="23" fill="#008000"/>
<rect x="1064" y="516" width="4" height="19" fill="#008000"/>
<rect x="1072" y="516" width="4" height="15" fill="#008000"/>
<rect x="1080" y="516" width="4" height="12" fill="#008000"/>
<rect x="1088" y="516" width="4" height="8" fill="#008000"/>
<rect x="1096" y="516" width="4" height="5" fill="#008000"/>
<rect x="0" y="651" width="4" height="11" fill="#ff0000"/>
<rect x="8" y="651" width="4" height="12" fill="#ff0000"/>
<rect x="16" y="651" width="4" height="9" fill="#008000"/>
<rect x="24" y="651" width="4" height="8" fill="#008000"/>
<rect x="32" y="651" width="4" height="9" fill="#ff0000"/>
<rect x="40" y="651" width="4" height="12" fill="#ff0000"/>
<rect x="48" y="651" width="4" height="15" fill="#ff0000"/>
<rect x="56" y="651" width="4" height="12" fill="#008000"/>
<rect x="64" y="651" width="4" height="14" fill="#ff0000"/>
<rect x="72" y="651" width="4" height="13" fill="#008000"/>
<rect x="80" y="651" width="4" height="11" fill="#008000"/>
<rect x="88" y="651" width="4" height="5" fill="#008000"/>
<rect x="96" y="651" width="4" height="4" fill="#008000"/>
<rect x="104" y="651" width="4" height="1" fill="#008000"/>
<rect x="112" y="651" width="4" height="1" fill="#008000"/>
<rect x="120" y="651" width="4" height="1" fill="#008000"/>
<rect x="128" y="651" width="4" height="1" fill="#ff0000"/>
<rect x="136" y="651" width="4" height="4" fill="#ff0000"/>
<rect x="144" y="651" width="4" height="3" fill="#008000"/>
<rect x="152" y="651" width="4" height="1" fill="#008000"/>
<rect x="160" y="651" width="4" height="1" fill="#008000"/>
<rect x="168" y="632" width="4" height="19" fill="#008000"/>
<rect x="176" y="611" width="4" height="40" fill="#008000"/>
<rect x="184" y="597" width="4" height="54" fill="#008000"/>
<rect x="192" y="588" width="4" height="63" fill="#008000"/>
<rect x="200" y="586" width="4" height="65" fill="#008000"/>
<rect x="208" y="610" width="4" height="41" fill="#ff0000"/>
<rect x="216" y="633" width="4" height="18" fill="#ff0000"/>
<rect x="224" y="648" width="4" height="3" fill="#ff0000"/>
<rect x="232" y="651" width="4" height="7" fill="#ff0000"/>
<rect x="240" y="651" width="4" height="12" fill="#ff0000"/>
<rect x="248" y="651" width="4" height="7" fill="#008000"/>
<rect x="256" y="651" width="4" height="4" fill="#008000"/>
<rect x="264" y="651" width="4" height="7" fill="#ff0000"/>
<rect x="272" y="651" width="4" height="11" fill="#ff0000"/>
<rect x="280" y="651" width="4" height="13" fill="#ff0000"/>
<rect x="288" y="651" width="4" height="15" fill="#ff0000"/>
<rect x="296" y="651" width="4" height="16" fill="#ff0000"/>
<rect x="304" y="651" width="4" height="14" fill="#008000"/>
<rect x="312" y="651" width="4" height="8" fill="#008000"/>
<rect x="320" y="651" width="4" height="1" fill="#008000"/>
<rect x="328" y="644" width="4" height="7" fill="#008000"/>
<rect x="336" y="645" width="4" height="6" fill="#ff0000"/>
<rect x="344" y="644" width="4" height="7" fill="#008000"/>
<rect x="352" y="648" width="4" height="3" fill="#ff0000"/>
<rect x="360" y="651" width="4" height="5" fill="#ff0000"/>
<rect x="368" y="651" width="4" height="13" fill="#ff0000"/>
<rect x="376" y="651" width="4" height="13" fill="#ff0000"/>
<rect x="384" y="651" width="4" height="10" fill="#008000"/>
<rect x="392" y="651" width="4" height="7" fill="#008000"/>
<rect x="400" y="651" width="4" height="5" fill="#008000"/>
<rect x="408" y="651" width="4" height="1" fill="#008000"/>
<rect x="416" y="651" width="4" height="1" fill="#ff0000"/>
<rect x="424" y="651" width="4" height="2" fill="#ff0000"/>
<rect x="432" y="651" width="4" height="1" fill="#008000"/>
<rect x="440" y="646" width="4" height="5" fill="#008000"/>
<rect x="448" y="642" width="4" height="9" fill="#008000"/>
<rect x="456" y="637" width="4" height="14" fill="#008000"/>
<rect x="464" y="641" width="4" height="10" fill="#ff0000"/>
<rect x="472" y="646" width="4" height="5" fill="#ff0000"/>
<rect x="480" y="650" width="4" height="1" fill="#ff0000"/>
<rect x="488" y="651" width="4" height="2" fill="#ff0000"/>
<rect x="496" y="651" width="4" height="4" fill="#ff0000"/>
<rect x="504" y="651" width="4" height="2" fill="#008000"/>
<rect x="512" y="649" width="4" height="2" fill="#008000"/>
<rect x="520" y="649" width="4" height="2" fill="#008000"/>
<rect x="528" y="648" width="4" height="3" fill="#008000"/>
<rect x="536" y="647" width="4" height="4" fill="#008000"/>
<rect x="544" y="649" width="4" height="2" fill="#ff0000"/>
<rect x="552" y="651" width="4" height="1" fill="#ff0000"/>
<rect x="560" y="651" width="4" height="4" fill="#ff0000"/>
<rect x="568" y="651" width="4" height="8" fill="#ff0000"/>
<rect x="576" y="651" width="4" height="10" fill="#ff0000"/>
<rect x="584" y="651" width="4" height="8" fill="#008000"/>
<rect x="592" y="651" width="4" height="7" fill="#008000"/>
<rect x="600" y="651" width="4" height="6" fill="#008000"/>
<rect x="608" y="651" width="4" height="4" fill="#008000"/>
<rect x="616" y="651" width="4" height="4" fill="#ff0000"/>
<rect x="624" y="651" width="4" height="7" fill="#ff0000"/>
<rect x="632" y="651" width="4" height="7" fill="#008000"/>
<rect x="640" y="651" width="4" height="6" fill="#008000"/>
<rect x="648" y="651" width="4" height="6" fill="#ff0000"/>
<rect x="656" y="651" width="4" height="4" fill="#008000"/>
<rect x="664" y="651" width="4" height="2" fill="#008000"/>
<rect x="672" y="651" width="4" height="3" fill="#ff0000"/>
<rect x="680" y="651" width="4" height="5" fill="#ff0000"/>
<rect x="688" y="651" width="4" height="6" fill="#ff0000"/>
<rect x="696" y="651" width="4" height="7" fill="#ff0000"/>
<rect x="704" y="651" width="4" height="10" fill="#ff0000"/>
<rect x="712" y="651" width="4" height="9" fill="#008000"/>
<rect x="720" y="651" width="4" height="8" fill="#008000"/>
<rect x="728" y="651" width="4" height="8" fill="#008000"/>
<rect x="736" y="651" width="4" height="5" fill="#008000"/>
<rect x="744" y="651" width="4" height="1" fill="#008000"/>
<rect x="752" y="649" width="4" height="2" fill="#008000"/>
<rect x="760" y="650" width="4" height="1" fill="#ff0000"/>
<rect x="768" y="651" width="4" height="2" fill="#ff0000"/>
<rect x="776" y="651" width="4" height="9" fill="#ff0000"/>
<rect x="784" y="651" width="4" height="14" fill="#ff0000"/>
<rect x="792" y="651" width="4" height="13" fill="#008000"/>
<rect x="800" y="651" width="4" height="10" fill="#008000"/>
<rect x="808" y="651" width="4" height="4" fill="#008000"/>
<rect x="816" y="649" width="4" height="2" fill="#008000"/>
<rect x="824" y="644" width="4" height="7" fill="#008000"/>
<rect x="832" y="645" width="4" height="6" fill="#ff0000"/>
<rect x="840" y="645" width="4" height="6" fill="#008000"/>
<rect x="848" y="645" width="4" height="6" fill="#008000"/>
<rect x="856" y="643" width="4" height="8" fill="#008000"/>
<rect x="864" y="641" width="4" height="10" fill="#008000"/>
<rect x="872" y="642" width="4" height="9" fill="#ff0000"/>
<rect x="880" y="645" width="4" height="6" fill="#ff0000"/>
<rect x="888" y="651" width="4" height="1" fill="#ff0000"/>
<rect x="896" y="651" width="4" height="7" fill="#ff0000"/>
<rect x="904" y="651" width="4" height="12" fill="#ff0000"/>
<rect x="912" y="651" width="4" height="14" fill="#ff0000"/>
<rect x="920" y="651" width="4" height="15" fill="#ff0000"/>
<rect x="928" y="651" width="4" height="14" fill="#008000"/>
<rect x="936" y="651" width="4" height="10" fill="#008000"/>
<rect x="944" y="651" width="4" height="8" fill="#008000"/>
<rect x="952" y="651" width="4" height="8" fill="#008000"/>
<rect x="960" y="651" width="4" height="8" fill="#ff0000"/>
<rect x="968" y="651" width="4" height="9" fill="#ff0000"/>
<rect x="976" y="651" width="4" height="13" fill="#ff0000"/>
<rect x="984" y="651" width="4" height="17" fill="#ff0000"/>
<rect x="992" y="651" width="4" height="17" fill="#ff0000"/>
<rect x="1000" y="651" width="4" height="14" fill="#008000"/>
<rect x="1008" y="651" width="4" height="8" fill="#008000"/>
<rect x="1016" y="651" width="4" height="1" fill="#008000"/>
<rect x="1024" y="640" width="4" height="11" fill="#008000"/>
<rect x="1032" y="633" width="4" height="18" fill="#008000"/>
<rect x="1040" y="630" width="4" height="21" fill="#008000"/>
<rect x="1048" y="627" width="4" height="24" fill="#008000"/>
<rect x="1056" y="628" width="4" height="23" fill="#ff0000"/>
<rect x="1064" y="629" width="4" height="22" fill="#ff0000"/>
<rect x="1072" y="632" width="4" height="19" fill="#ff0000"/>
<rect x="1080" y="634" width="4" height="17" fill="#ff0000"/>
<rect x="1088" y="634" width="4" height="17" fill="#008000"/>
<rect x="1096" y="635" width="4" height="16" fill="#ff0000"/>
<rect x="0" y="728" width="4" height="5" fill="#ff0000"/>
<rect x="0" y="733" width="4" height="9" fill="#008000"/>
<rect x="8" y="727" width="4" height="6" fill="#008000"/>
<rect x="8" y="733" width="4" height="10" fill="#008000"/>
<rect x="16" y="724" width="4" height="9" fill="#008000"/>
<rect x="16" y="733" width="4" height="8" fill="#ff0000"/>
<rect x="24" y="722" width="4" height="11" fill="#008000"/>
<rect x="24" y="733" width="4" height="9" fill="#008000"/>
<rect x="32" y="721" width="4" height="12" fill="#008000"/>
<rect x="32" y="733" width="4" height="14" fill="#008000"/>
<rect x="40" y="721" width="4" height="12" fill="#ff0000"/>
<rect x="40" y="733" width="4" height="16" fill="#008000"/>
<rect x="48" y="719" width="4" height="14" fill="#008000"/>
<rect x="48" y="733" width="4" height="15" fill="#ff0000"/>
<rect x="56" y="716" width="4" height="17" fill="#008000"/>
<rect x="56" y="733" width="4" height="15" fill="#008000"/>
<rect x="64" y="715" width="4" height="18" fill="#008000"/>
<rect x="64" y="733" width="4" height="19" fill="#008000"/>
<rect x="72" y="715" width="4" height="18" fill="#008000"/>
<rect x="72" y="733" width="4" height="26" fill="#008000"/>
<rect x="80" y="712" width="4" height="21" fill="#008000"/>
<rect x="80" y="733" width="4" height="23" fill="#ff0000"/>
<rect x="88" y="707" width="4" height="26" fill="#008000"/>
<rect x="88" y="733" width="4" height="23" fill="#ff0000"/>
<rect x="96" y="706" width="4" height="27" fill="#008000"/>
<rect x="96" y="733" width="4" height="25" fill="#008000"/>
<rect x="104" y="705" width="4" height="28" fill="#008000"/>
<rect x="104" y="733" width="4" height="24" fill="#ff0000"/>
<rect x="112" y="705" width="4" height="28" fill="#ff0000"/>
<rect x="112" y="733" width="4" height="23" fill="#ff0000"/>
<rect x="120" y="703" width="4" height="30" fill="#008000"/>
<rect x="120" y="733" width="4" height="21" fill="#ff0000"/>
<rect x="128" y="703" width="4" height="30" fill="#ff0000"/>
<rect x="128" y="733" width="4" height="20" fill="#ff0000"/>
<rect x="136" y="704" width="4" height="29" fill="#ff0000"/>
<rect x="136" y="733" width="4" height="20" fill="#008000"/>
<rect x="144" y="705" width="4" height="28" fill="#ff0000"/>
<rect x="144" y="733" width="4" height="19" fill="#ff0000"/>
<rect x="152" y="705" width="4" height="28" fill="#ff0000"/>
<rect x="152" y="733" width="4" height="20" fill="#008000"/>
<rect x="160" y="705" width="4" height="28" fill="#ff0000"/>
<rect x="160" y="733" width="4" height="23" fill="#008000"/>
<rect x="168" y="704" width="4" height="29" fill="#008000"/>
<rect x="168" y="733" width="4" height="21" fill="#ff0000"/>
<rect x="176" y="703" width="4" height="30" fill="#008000"/>
<rect x="176" y="733" width="4" height="18" fill="#ff0000"/>
<rect x="184" y="702" width="4" height="31" fill="#008000"/>
<rect x="184" y="733" width="4" height="18" fill="#ff0000"/>
<rect x="192" y="703" width="4" height="30" fill="#ff0000"/>
<rect x="192" y="733" width="4" height="1" fill="#ff0000"/>
<rect x="200" y="705" width="4" height="28" fill="#ff0000"/>
<rect x="200" y="733" width="4" height="23" fill="#008000"/>
<rect x="208" y="717" width="4" height="16" fill="#ff0000"/>
<rect x="208" y="733" width="4" height="30" fill="#008000"/>
<rect x="216" y="731" width="4" height="2" fill="#ff0000"/>
<rect x="216" y="733" width="4" height="34" fill="#008000"/>
<rect x="224" y="720" width="4" height="13" fill="#008000"/>
<rect x="224" y="733" width="4" height="34" fill="#ff0000"/>
<rect x="232" y="714" width="4" height="19" fill="#008000"/>
<rect x="232" y="733" width="4" height="26" fill="#ff0000"/>
<rect x="240" y="712" width="4" height="21" fill="#008000"/>
<rect x="240" y="733" width="4" height="21" fill="#ff0000"/>
<rect x="248" y="714" width="4" height="19" fill="#ff0000"/>
<rect x="248" y="733" width="4" height="22" fill="#008000"/>
<rect x="256" y="717" width="4" height="16" fill="#ff0000"/>
<rect x="256" y="733" width="4" height="22" fill="#ff0000"/>
<rect x="264" y="717" width="4" height="16" fill="#ff0000"/>
<rect x="264" y="733" width="4" height="16" fill="#ff0000"/>
<rect x="272" y="716" width="4" height="17" fill="#008000"/>
<rect x="272" y="733" width="4" height="13" fill="#ff0000"/>
<rect x="280" y="717" width="4" height="16" fill="#ff0000"/>
<rect x="280" y="733" width="4" height="13" fill="#008000"/>
<rect x="288" y="719" width="4" height="14" fill="#ff0000"/>
<rect x="288" y="733" width="4" height="9" fill="#ff0000"/>
<rect x="296" y="719" width="4" height="14" fill="#ff0000"/>
<rect x="296" y="733" width="4" height="2" fill="#ff0000"/>
<rect x="304" y="721" width="4" height="12" fill="#ff0000"/>
<rect x="304" y="733" width="4" height="2" fill="#ff0000"/>
<rect x="312" y="725" width="4" height="8" fill="#ff0000"/>
<rect x="312" y="733" width="4" height="3" fill="#008000"/>
<rect x="320" y="729" width="4" height="4" fill="#ff0000"/>
<rect x="320" y="733" width="4" height="3" fill="#008000"/>
<rect x="328" y="731" width="4" height="2" fill="#ff0000"/>
<rect x="328" y="733" width="4" height="4" fill="#008000"/>
<rect x="336" y="732" width="4" height="1" fill="#ff0000"/>
<rect x="336" y="733" width="4" height="2" fill="#ff0000"/>
<rect x="344" y="733" width="4" height="3" fill="#008000"/>
<rect x="352" y="732" width="4" height="1" fill="#008000"/>
<rect x="352" y="733" width="4" height="6" fill="#008000"/>
<rect x="360" y="729" width="4" height="4" fill="#008000"/>
<rect x="360" y="733" width="4" height="3" fill="#ff0000"/>
<rect x="368" y="726" width="4" height="7" fill="#008000"/>
<rect x="368" y="733" width="4" height="3" fill="#ff0000"/>
<rect x="376" y="726" width="4" height="7" fill="#ff0000"/>
<rect x="376" y="733" width="4" height="2" fill="#ff0000"/>
<rect x="384" y="727" width="4" height="6" fill="#ff0000"/>
<rect x="384" y="733" width="4" height="1" fill="#ff0000"/>
<rect x="392" y="728" width="4" height="5" fill="#ff0000"/>
<rect x="392" y="733" width="4" height="4" fill="#008000"/>
<rect x="400" y="729" width="4" height="4" fill="#ff0000"/>
<rect x="400" y="733" width="4" height="4" fill="#ff0000"/>
<rect x="408" y="733" width="4" height="1" fill="#ff0000"/>
<rect x="416" y="732" width="4" height="1" fill="#008000"/>
<rect x="416" y="733" width="4" height="3" fill="#008000"/>
<rect x="424" y="732" width="4" height="1" fill="#008000"/>
<rect x="424" y="733" width="4" height="1" fill="#ff0000"/>
<rect x="432" y="729" width="4" height="4" fill="#008000"/>
<rect x="432" y="733" width="4" height="1" fill="#008000"/>
<rect x="440" y="730" width="4" height="3" fill="#ff0000"/>
<rect x="440" y="733" width="4" height="1" fill="#ff0000"/>
<rect x="448" y="730" width="4" height="3" fill="#ff0000"/>
<rect x="448" y="733" width="4" height="4" fill="#008000"/>
<rect x="456" y="731" width="4" height="2" fill="#ff0000"/>
<rect x="456" y="733" width="4" height="8" fill="#008000"/>
<rect x="464" y="728" width="4" height="5" fill="#008000"/>
<rect x="464" y="733" width="4" height="10" fill="#008000"/>
<rect x="472" y="726" width="4" height="7" fill="#008000"/>
<rect x="472" y="733" width="4" height="11" fill="#008000"/>
<rect x="480" y="723" width="4" height="10" fill="#008000"/>
<rect x="480" y="733" width="4" height="11" fill="#008000"/>
<rect x="488" y="722" width="4" height="11" fill="#008000"/>
<rect x="488" y="733" width="4" height="9" fill="#ff0000"/>
<rect x="496" y="721" width="4" height="12" fill="#008000"/>
<rect x="496" y="733" width="4" height="6" fill="#ff0000"/>
<rect x="504" y="722" width="4" height="11" fill="#ff0000"/>
<rect x="504" y="733" width="4" height="6" fill="#008000"/>
<rect x="512" y="724" width="4" height="9" fill="#ff0000"/>
<rect x="512" y="733" width="4" height="7" fill="#008000"/>
<rect x="520" y="724" width="4" height="9" fill="#ff0000"/>
<rect x="520" y="733" width="4" height="5" fill="#ff0000"/>
<rect x="528" y="724" width="4" height="9" fill="#008000"/>
<rect x="528" y="733" width="4" height="5" fill="#ff0000"/>
<rect x="536" y="724" width="4" height="9" fill="#ff0000"/>
<rect x="536" y="733" width="4" height="7" fill="#008000"/>
<rect x="544" y="725" width="4" height="8" fill="#ff0000"/>
<rect x="544" y="733" width="4" height="8" fill="#008000"/>
<rect x="552" y="723" width="4" height="10" fill="#008000"/>
<rect x="552" y="733" width="4" height="7" fill="#ff0000"/>
<rect x="560" y="723" width="4" height="10" fill="#008000"/>
<rect x="560" y="733" width="4" height="7" fill="#008000"/>
<rect x="568" y="722" width="4" height="11" fill="#008000"/>
<rect x="568" y="733" width="4" height="6" fill="#ff0000"/>
<rect x="576" y="723" width="4" height="10" fill="#ff0000"/>
<rect x="576" y="733" width="4" height="5" fill="#ff0000"/>
<rect x="584" y="723" width="4" height="10" fill="#ff0000"/>
<rect x="584" y="733" width="4" height="3" fill="#ff0000"/>
<rect x="592" y="723" width="4" height="10" fill="#ff0000"/>
<rect x="592" y="733" width="4" height="1" fill="#ff0000"/>
<rect x="600" y="725" width="4" height="8" fill="#ff0000"/>
<rect x="600" y="733" width="4" height="1" fill="#008000"/>
<rect x="608" y="727" width="4" height="6" fill="#ff0000"/>
<rect x="608" y="733" width="4" height="1" fill="#008000"/>
<rect x="616" y="729" width="4" height="4" fill="#ff0000"/>
<rect x="616" y="733" width="4" height="1" fill="#ff0000"/>
<rect x="624" y="729" width="4" height="4" fill="#008000"/>
<rect x="624" y="733" width="4" height="2" fill="#008000"/>
<rect x="632" y="729" width="4" height="4" fill="#ff0000"/>
<rect x="632" y="733" width="4" height="2" fill="#008000"/>
<rect x="640" y="730" width="4" height="3" fill="#ff0000"/>
<rect x="640" y="733" width="4" height="3" fill="#008000"/>
<rect x="648" y="731" width="4" height="2" fill="#ff0000"/>
<rect x="648" y="733" width="4" height="5" fill="#008000"/>
<rect x="656" y="733" width="4" height="4" fill="#ff0000"/>
<rect x="664" y="731" width="4" height="2" fill="#008000"/>
<rect x="664" y="733" width="4" height="3" fill="#ff0000"/>
<rect x="672" y="731" width="4" height="2" fill="#008000"/>
<rect x="672" y="733" width="4" height="5" fill="#008000"/>
<rect x="680" y="731" width="4" height="2" fill="#008000"/>
<rect x="680" y="733" width="4" height="4" fill="#ff0000"/>
<rect x="688" y="730" width="4" height="3" fill="#008000"/>
<rect x="688" y="733" width="4" height="3" fill="#ff0000"/>
<rect x="696" y="730" width="4" height="3" fill="#008000"/>
<rect x="696" y="733" width="4" height="5" fill="#008000"/>
<rect x="704" y="730" width="4" height="3" fill="#008000"/>
<rect x="704" y="733" width="4" height="7" fill="#008000"/>
<rect x="712" y="729" width="4" height="4" fill="#008000"/>
<rect x="712" y="733" width="4" height="8" fill="#008000"/>
<rect x="720" y="728" width="4" height="5" fill="#008000"/>
<rect x="720" y="733" width="4" height="9" fill="#008000"/>
<rect x="728" y="726" width="4" height="7" fill="#008000"/>
<rect x="728" y="733" width="4" height="11" fill="#008000"/>
<rect x="736" y="725" width="4" height="8" fill="#008000"/>
<rect x="736" y="733" width="4" height="12" fill="#008000"/>
<rect x="744" y="723" width="4" height="10" fill="#008000"/>
<rect x="744" y="733" width="4" height="12" fill="#008000"/>
<rect x="752" y="721" width="4" height="12" fill="#008000"/>
<rect x="752" y="733" width="4" height="13" fill="#008000"/>
<rect x="760" y="720" width="4" height="13" fill="#008000"/>
<rect x="760" y="733" width="4" height="11" fill="#ff0000"/>
<rect x="768" y="719" width="4" height="14" fill="#008000"/>
<rect x="768" y="733" width="4" height="8" fill="#ff0000"/>
<rect x="776" y="720" width="4" height="13" fill="#ff0000"/>
<rect x="776" y="733" width="4" height="8" fill="#008000"/>
<rect x="784" y="722" width="4" height="11" fill="#ff0000"/>
<rect x="784" y="733" width="4" height="11" fill="#008000"/>
<rect x="792" y="722" width="4" height="11" fill="#ff0000"/>
<rect x="792" y="733" width="4" height="15" fill="#008000"/>
<rect x="800" y="720" width="4" height="13" fill="#008000"/>
<rect x="800" y="733" width="4" height="19" fill="#008000"/>
<rect x="808" y="717" width="4" height="16" fill="#008000"/>
<rect x="808" y="733" width="4" height="21" fill="#008000"/>
<rect x="816" y="713" width="4" height="20" fill="#008000"/>
<rect x="816" y="733" width="4" height="18" fill="#ff0000"/>
<rect x="824" y="710" width="4" height="23" fill="#008000"/>
<rect x="824" y="733" width="4" height="16" fill="#ff0000"/>
<rect x="832" y="711" width="4" height="22" fill="#ff0000"/>
<rect x="832" y="733" width="4" height="16" fill="#ff0000"/>
<rect x="840" y="711" width="4" height="22" fill="#ff0000"/>
<rect x="840" y="733" width="4" height="14" fill="#ff0000"/>
<rect x="848" y="713" width="4" height="20" fill="#ff0000"/>
<rect x="848" y="733" width="4" height="14" fill="#ff0000"/>
<rect x="856" y="713" width="4" height="20" fill="#008000"/>
<rect x="856" y="733" width="4" height="13" fill="#ff0000"/>
<rect x="864" y="713" width="4" height="20" fill="#ff0000"/>
<rect x="864" y="733" width="4" height="11" fill="#ff0000"/>
<rect x="872" y="714" width="4" height="19" fill="#ff0000"/>
<rect x="872" y="733" width="4" height="9" fill="#ff0000"/>
<rect x="880" y="715" width="4" height="18" fill="#ff0000"/>
<rect x="880" y="733" width="4" height="5" fill="#ff0000"/>
<rect x="888" y="716" width="4" height="17" fill="#ff0000"/>
<rect x="888" y="733" width="4" height="4" fill="#ff0000"/>
<rect x="896" y="719" width="4" height="14" fill="#ff0000"/>
<rect x="896" y="733" width="4" height="5" fill="#008000"/>
<rect x="904" y="721" width="4" height="12" fill="#ff0000"/>
<rect x="904" y="733" width="4" height="7" fill="#008000"/>
<rect x="912" y="721" width="4" height="12" fill="#ff0000"/>
<rect x="912" y="733" width="4" height="11" fill="#008000"/>
<rect x="920" y="719" width="4" height="14" fill="#008000"/>
<rect x="920" y="733" width="4" height="14" fill="#008000"/>
<rect x="928" y="717" width="4" height="16" fill="#008000"/>
<rect x="928" y="733" width="4" height="17" fill="#008000"/>
<rect x="936" y="714" width="4" height="19" fill="#008000"/>
<rect x="936" y="733" width="4" height="18" fill="#008000"/>
<rect x="944" y="712" width="4" height="21" fill="#008000"/>
<rect x="944" y="733" width="4" height="21" fill="#008000"/>
<rect x="952" y="710" width="4" height="23" fill="#008000"/>
<rect x="952" y="733" width="4" height="24" fill="#008000"/>
<rect x="960" y="708" width="4" height="25" fill="#008000"/>
<rect x="960" y="733" width="4" height="23" fill="#ff0000"/>
<rect x="968" y="705" width="4" height="28" fill="#008000"/>
<rect x="968" y="733" width="4" height="22" fill="#ff0000"/>
<rect x="976" y="704" width="4" height="29" fill="#008000"/>
<rect x="976" y="733" width="4" height="24" fill="#008000"/>
<rect x="984" y="704" width="4" height="29" fill="#008000"/>
<rect x="984" y="733" width="4" height="28" fill="#008000"/>
<rect x="992" y="703" width="4" height="30" fill="#008000"/>
<rect x="992" y="733" width="4" height="31" fill="#008000"/>
<rect x="1000" y="699" width="4" height="34" fill="#008000"/>
<rect x="1000" y="733" width="4" height="33" fill="#008000"/>
<rect x="1008" y="696" width="4" height="37" fill="#008000"/>
<rect x="1008" y="733" width="4" height="36" fill="#008000"/>
<rect x="1016" y="693" width="4" height="40" fill="#008000"/>
<rect x="1016" y="733" width="4" height="37" fill="#008000"/>
<rect x="1024" y="690" width="4" height="43" fill="#008000"/>
<rect x="1024" y="733" width="4" height="35" fill="#ff0000"/>
<rect x="1032" y="688" width="4" height="45" fill="#008000"/>
<rect x="1032" y="733" width="4" height="32" fill="#ff0000"/>
<rect x="1040" y="688" width="4" height="45" fill="#008000"/>
<rect x="1040" y="733" width="4" height="28" fill="#ff0000"/>
<rect x="1048" y="689" width="4" height="44" fill="#ff0000"/>
<rect x="1048" y="733" width="4" height="22" fill="#ff0000"/>
<rect x="1056" y="692" width="4" height="41" fill="#ff0000"/>
<rect x="1056" y="733" width="4" height="16" fill="#ff0000"/>
<rect x="1064" y="696" width="4" height="37" fill="#ff0000"/>
<rect x="1064" y="733" width="4" height="12" fill="#ff0000"/>
<rect x="1072" y="700" width="4" height="33" fill="#ff0000"/>
<rect x="1072" y="733" width="4" height="8" fill="#ff0000"/>
<rect x="1080" y="704" width="4" height="29" fill="#ff0000"/>
<rect x="1080" y="733" width="4" height="5" fill="#ff0000"/>
<rect x="1088" y="708" width="4" height="25" fill="#ff0000"/>
<rect x="1088" y="733" width="4" height="1" fill="#ff0000"/>
<rect x="1096" y="711" width="4" height="22" fill="#ff0000"/>
<rect x="1096" y="733" width="4" height="1" fill="#ff0000"/>
<rect x="1104" y="715" width="4" height="18" fill="#ff0000"/>
<rect x="1104" y="733" width="4" height="1" fill="#008000"/>
<rect x="1112" y="717" width="4" height="16" fill="#ff0000"/>
<rect x="1112" y="733" width="4" height="5" fill="#008000"/>
<rect x="1120" y="719" width="4" height="14" fill="#ff0000"/>
<rect x="1120" y="733" width="4" height="7" fill="#008000"/>
<rect x="1128" y="723" width="4" height="10" fill="#ff0000"/>
<rect x="1136" y="726" width="4" height="7" fill="#ff0000"/>
<rect x="0" y="476" width="2" height="303" fill="#fff"/>
<rect x="2" y="475" width="1" height="101" fill="#000"/>
<rect x="2" y="577" width="1" height="101" fill="#000"/>
<rect x="2" y="679" width="1" height="101" fill="#000"/>
<rect x="1228" y="25" width="4" height="1" fill="#000"/>
<rect x="1228" y="57" width="4" height="1" fill="#000"/>
<rect x="1228" y="89" width="4" height="1" fill="#000"/>
<rect x="1228" y="121" width="4" height="1" fill="#000"/>
<rect x="1228" y="153" width="4" height="1" fill="#000"/>
<rect x="1228" y="185" width="4" height="1" fill="#000"/>
<rect x="1228" y="217" width="4" height="1" fill="#000"/>
<rect x="1228" y="249" width="4" height="1" fill="#000"/>
<rect x="1228" y="281" width="4" height="1" fill="#000"/>
<rect x="1228" y="313" width="4" height="1" fill="#000"/>
<rect x="1228" y="377" width="4" height="1" fill="#000"/>
<rect x="1228" y="409" width="4" height="1" fill="#000"/>
<rect x="1228" y="441" width="4" height="1" fill="#000"/>
<rect x="1228" y="345" width="2" height="1" fill="#000"/>
<rect x="1228" y="476" width="4" height="1" fill="#000"/>
<rect x="1228" y="574" width="4" height="1" fill="#000"/>
<rect x="1228" y="578" width="4" height="1" fill="#000"/>
<rect x="1228" y="676" width="4" height="1" fill="#000"/>
<rect x="1228" y="680" width="4" height="1" fill="#000"/>
<rect x="1228" y="778" width="4" height="1" fill="#000"/>
<rect x="2" y="780" width="1" height="4" fill="#000"/>
<rect x="66" y="780" width="1" height="4" fill="#000"/>
<rect x="130" y="780" width="1" height="4" fill="#000"/>
<rect x="194" y="780" width="1" height="4" fill="#000"/>
<rect x="258" y="780" width="1" height="4" fill="#000"/>
<rect x="322" y="780" width="1" height="4" fill="#000"/>
<rect x="386" y="780" width="1" height="4" fill="#000"/>
<rect x="450" y="780" width="1" height="4" fill="#000"/>
<rect x="514" y="780" width="1" height="4" fill="#000"/>
<rect x="578" y="780" width="1" height="4" fill="#000"/>
<rect x="642" y="780" width="1" height="4" fill="#000"/>
<rect x="706" y="780" width="1" height="4" fill="#000"/>
<rect x="770" y="780" width="1" height="4" fill="#000"/>
<rect x="834" y="780" width="1" height="4" fill="#000"/>
<rect x="898" y="780" width="1" height="4" fill="#000"/>
<rect x="962" y="780" width="1" height="4" fill="#000"/>
<rect x="1026" y="780" width="1" height="4" fill="#000"/>
<rect x="1090" y="780" width="1" height="4" fill="#000"/>
<rect x="1230" y="339" width="39" height="11" fill="#c80000"/>
</g>
<g clip-path="url(#cm)">
<use href="#fu" x="3.5" y="120"/>
<use href="#fu" x="171.5" y="0"/>
<use href="#fu" x="203.5" y="50"/>
<use href="#fu" x="227.5" y="86"/>
<use href="#fu" x="323.5" y="110"/>
<use href="#fu" x="387.5" y="119"/>
<use href="#fu" x="427.5" y="80"/>
<use href="#fu" x="451.5" y="88"/>
<use href="#fu" x="491.5" y="103"/>
<use href="#fu" x="515.5" y="76"/>
<use href="#fu" x="555.5" y="73"/>
<use href="#fu" x="587.5" y="91"/>
<use href="#fu" x="635.5" y="119"/>
<use href="#fu" x="659.5" y="116"/>
<use href="#fu" x="699.5" y="145"/>
<use href="#fu" x="747.5" y="145"/>
<use href="#fu" x="795.5" y="177"/>
<use href="#fu" x="819.5" y="221"/>
<use href="#fu" x="859.5" y="211"/>
<use href="#fu" x="1067.5" y="350"/>
<use href="#fd" x="10.8" y="219.5"/>
<use href="#fd" x="50.8" y="295.5"/>
<use href="#fd" x="90.8" y="294.5"/>
<use href="#fd" x="138.8" y="340.5"/>
<use href="#fd" x="162.8" y="333.5"/>
<use href="#fd" x="210.8" y="183.5"/>
<use href="#fd" x="242.8" y="177.5"/>
<use href="#fd" x="282.8" y="213.5"/>
<use href="#fd" x="306.8" y="222.5"/>
<use href="#fd" x="370.8" y="232.5"/>
<use href="#fd" x="402.8" y="203.5"/>
<use href="#fd" x="474.8" y="160.5"/>
<use href="#fd" x="498.8" y="158.5"/>
<use href="#fd" x="570.8" y="181.5"/>
<use href="#fd" x="626.8" y="174.5"/>
<use href="#fd" x="650.8" y="185.5"/>
<use href="#fd" x="730.8" y="230.5"/>
<use href="#fd" x="794.8" y="298.5"/>
<use href="#fd" x="826.8" y="277.5"/>
<use href="#fd" x="1002.8" y="481.5"/>
</g>
<polyline clip-path="url(#cm)" shape-rendering="crispEdges" fill="none" stroke="#0040dd" stroke-width="2" stroke-linejoin="round" points="3,108 26,109 47,118 67,123 81,132.5 98,140.5 116,157 134,172 150,183.5 160,192 180,206 200,220 218,233 225,238 232.5,233.75 237.5,230 246,219 256,206 266,197 282,189 298,179 314,176 324,172 338,172 352,174.5 364,176 376,177 390,174 404,171.5 424,170 432,172 446,171.6 460,169.4 484,169 500,163 520,155 540,151 560,146.4 580,141 600,137 620,132 636,132.4 656,131.6 674,134 704,136 728,139 754,145 774,153 794,163 816,166 834,175 850,189 864,196 880,204 896,212 916,218 932,219 946,223 960,232.5 977.5,243.75 995,260 1002.5,263.75 1013.75,275 1022.5,282.5 1030,291.25 1037.5,300 1047.5,313.75 1055,323 1062,332 1072,343 1082,352 1092,358 1102,362.4 1118,366.6 1132,368 1152,368 1163,367"/>
<polyline clip-path="url(#cm)" shape-rendering="crispEdges" fill="none" stroke="#ff0000" stroke-width="2" stroke-linejoin="round" points="3,114 9,117 17,122.5 26,126.5 42,132 51,141 66,149 73,155 83,165 90,176 100,182 110,194 128,211 140,220 160,234 170,242 184,255 202,265 212,250 220,234 230,214 242,192 258,181 274,167 290,162 300,159 312,161 324,167 340,172 354,173 364,168 372,165.6 400,165.6 410,169 424,169 444,167 460,165.6 470,161 484,152 498,145.6 514,143 528,139 546,136 560,131 576,126 592,123.6 600,123.6 607.5,126 617.5,127 640,127.5 650,129 664,134 684,137 704,141 720,146 740,154 754,162 770,172.4 788,175 802,181 814,194 826,206 840,214 854,221 870,229 886,233.6 902,232.6 916,235.6 928,242 944,256 956,265 960,270 966,277.5 973.75,285 990,300 996,306 1003.75,317.5 1012.5,330 1022,344 1032,362 1042,374 1052,384 1062,391.6 1072,394.6 1082,395 1092,394.4 1102,392 1112,390 1122,387 1132,381 1138,379.6"/>
<polyline clip-path="url(#cm)" shape-rendering="crispEdges" fill="none" stroke="#00ff00" stroke-width="2" stroke-linejoin="round" points="3,127 9,132.6 19,135 28,141 34,150.6 44,158.4 55,166 62,175.6 68,184 74,196 82,200 90,212 100,222 110,231 120,237 130,244 146,254 158,266 168,274 180,279 186,282.6 192,266 200,240 208,210 218,182 227,167 240,160 250,152 258,147 272,147 282,144.4 292,150 304,160 316,170 330,174.4 338,174 346,168 356,164 370,163 384,164 392,171 404,171.4 416,166 426,167 444,165.6 450,160 460,151 470,143 482,136 500,135 514,132 530,131 540,126 552,123 564,119.6 580,118.6 590,122 600,124.4 616,125 626,129 636,132 648,137.6 660,138 674,143 688,143.6 704,152 722,160 732,169 744,177 754,183 770,184 780,187 790,196 800,210 810,223 824,231 836,235 850,241 864,243.6 874,243.6 884,241 898,241 908,248 924,262 940,279 954,299 960,305 966,311 972.5,318.75 980,328.75 992,348 1000,364 1010,384 1020,398 1030,410 1040,417.6 1050,417.6 1060,415 1072,410 1082,404 1092,396 1102,390 1112,383 1122,376.6"/>
<path d="M1114,319 L1122.5,326.5 L1118,326.5 L1118,337.5 L1110.5,337.5 L1110.5,326.5 L1105.5,326.5 Z" fill="none" stroke="#3cd03c" stroke-width="1.1"/>
<g fill="#000" shape-rendering="crispEdges"><use href="#g36" x="1233" y="22"/><use href="#g36" x="1238" y="22"/><use href="#g38" x="1243" y="22"/><use href="#g38" x="1248" y="22"/><use href="#g2e" x="1253" y="22"/><use href="#g35" x="1256" y="22"/><use href="#g30" x="1261" y="22"/></g>
<g fill="#000" shape-rendering="crispEdges"><use href="#g36" x="1233" y="54"/><use href="#g36" x="1238" y="54"/><use href="#g36" x="1243" y="54"/><use href="#g31" x="1248" y="54"/><use href="#g2e" x="1253" y="54"/><use href="#g35" x="1256" y="54"/><use href="#g35" x="1261" y="54"/></g>
<g fill="#000" shape-rendering="crispEdges"><use href="#g36" x="1233" y="86"/><use href="#g36" x="1238" y="86"/><use href="#g33" x="1243" y="86"/><use href="#g34" x="1248" y="86"/><use href="#g2e" x="1253" y="86"/><use href="#g36" x="1256" y="86"/><use href="#g30" x="1261" y="86"/></g>
<g fill="#000" shape-rendering="crispEdges"><use href="#g36" x="1233" y="118"/><use href="#g36" x="1238" y="118"/><use href="#g30" x="1243" y="118"/><use href="#g37" x="1248" y="118"/><use href="#g2e" x="1253" y="118"/><use href="#g36" x="1256" y="118"/><use href="#g35" x="1261" y="118"/></g>
<g fill="#000" shape-rendering="crispEdges"><use href="#g36" x="1233" y="150"/><use href="#g35" x="1238" y="150"/><use href="#g38" x="1243" y="150"/><use href="#g30" x="1248" y="150"/><use href="#g2e" x="1253" y="150"/><use href="#g37" x="1256" y="150"/><use href="#g30" x="1261" y="150"/></g>
<g fill="#000" shape-rendering="crispEdges"><use href="#g36" x="1233" y="182"/><use href="#g35" x="1238" y="182"/><use href="#g35" x="1243" y="182"/><use href="#g33" x="1248" y="182"/><use href="#g2e" x="1253" y="182"/><use href="#g37" x="1256" y="182"/><use href="#g35" x="1261" y="182"/></g>
<g fill="#000" shape-rendering="crispEdges"><use href="#g36" x="1233" y="214"/><use href="#g35" x="1238" y="214"/><use href="#g32" x="1243" y="214"/><use href="#g36" x="1248" y="214"/><use href="#g2e" x="1253" y="214"/><use href="#g38" x="1256" y="214"/><use href="#g30" x="1261" y="214"/></g>
<g fill="#000" shape-rendering="crispEdges"><use href="#g36" x="1233" y="246"/><use href="#g34" x="1238" y="246"/><use href="#g39" x="1243" y="246"/><use href="#g39" x="1248" y="246"/><use href="#g2e" x="1253" y="246"/><use href="#g38" x="1256" y="246"/><use href="#g35" x="1261" y="246"/></g>
<g fill="#000" shape-rendering="crispEdges"><use href="#g36" x="1233" y="278"/><use href="#g34" x="1238" y="278"/><use href="#g37" x="1243" y="278"/><use href="#g32" x="1248" y="278"/><use href="#g2e" x="1253" y="278"/><use href="#g39" x="1256" y="278"/><use href="#g30" x="1261" y="278"/></g>
<g fill="#000" shape-rendering="crispEdges"><use href="#g36" x="1233" y="310"/><use href="#g34" x="1238" y="310"/><use href="#g34" x="1243" y="310"/><use href="#g35" x="1248" y="310"/><use href="#g2e" x="1253" y="310"/><use href="#g39" x="1256" y="310"/><use href="#g35" x="1261" y="310"/></g>
<g fill="#000" shape-rendering="crispEdges"><use href="#g36" x="1233" y="374"/><use href="#g33" x="1238" y="374"/><use href="#g39" x="1243" y="374"/><use href="#g32" x="1248" y="374"/><use href="#g2e" x="1253" y="374"/><use href="#g30" x="1256" y="374"/><use href="#g35" x="1261" y="374"/></g>
<g fill="#000" shape-rendering="crispEdges"><use href="#g36" x="1233" y="406"/><use href="#g33" x="1238" y="406"/><use href="#g36" x="1243" y="406"/><use href="#g35" x="1248" y="406"/><use href="#g2e" x="1253" y="406"/><use href="#g31" x="1256" y="406"/><use href="#g30" x="1261" y="406"/></g>
<g fill="#000" shape-rendering="crispEdges"><use href="#g36" x="1233" y="438"/><use href="#g33" x="1238" y="438"/><use href="#g33" x="1243" y="438"/><use href="#g38" x="1248" y="438"/><use href="#g2e" x="1253" y="438"/><use href="#g31" x="1256" y="438"/><use href="#g35" x="1261" y="438"/></g>
<g fill="#fff" shape-rendering="crispEdges"><use href="#g36" x="1233" y="341"/><use href="#g34" x="1238" y="341"/><use href="#g31" x="1243" y="341"/><use href="#g39" x="1248" y="341"/><use href="#g2e" x="1253" y="341"/><use href="#g35" x="1256" y="341"/><use href="#g30" x="1261" y="341"/></g>
<g fill="#000" shape-rendering="crispEdges"><use href="#g39" x="1233" y="477"/><use href="#g35" x="1238" y="477"/><use href="#g2e" x="1243" y="477"/><use href="#g31" x="1246" y="477"/><use href="#g32" x="1251" y="477"/><use href="#g38" x="1256" y="477"/></g>
<g fill="#000" shape-rendering="crispEdges"><use href="#g2d" x="1233" y="566"/><use href="#g31" x="1236" y="566"/><use href="#g33" x="1241" y="566"/><use href="#g39" x="1246" y="566"/><use href="#g2e" x="1251" y="566"/><use href="#g36" x="1254" y="566"/><use href="#g37" x="1259" y="566"/><use href="#g32" x="1264" y="566"/></g>
<g fill="#000" shape-rendering="crispEdges"><use href="#g37" x="1233" y="579"/><use href="#g34" x="1238" y="579"/><use href="#g2e" x="1243" y="579"/><use href="#g35" x="1246" y="579"/><use href="#g34" x="1251" y="579"/><use href="#g31" x="1256" y="579"/><use href="#g31" x="1261" y="579"/></g>
<g fill="#000" shape-rendering="crispEdges"><use href="#g2d" x="1233" y="668"/><use href="#g32" x="1236" y="668"/><use href="#g35" x="1241" y="668"/><use href="#g2e" x="1246" y="668"/><use href="#g37" x="1249" y="668"/><use href="#g30" x="1254" y="668"/><use href="#g32" x="1259" y="668"/><use href="#g36" x="1264" y="668"/></g>
<g fill="#000" shape-rendering="crispEdges"><use href="#g36" x="1233" y="681"/><use href="#g39" x="1238" y="681"/><use href="#g2e" x="1243" y="681"/><use href="#g31" x="1246" y="681"/><use href="#g38" x="1251" y="681"/><use href="#g36" x="1256" y="681"/></g>
<g fill="#000" shape-rendering="crispEdges"><use href="#g2d" x="1233" y="770"/><use href="#g35" x="1236" y="770"/><use href="#g39" x="1241" y="770"/><use href="#g2e" x="1246" y="770"/><use href="#g35" x="1249" y="770"/><use href="#g31" x="1254" y="770"/><use href="#g35" x="1259" y="770"/></g>
<g fill="#000" shape-rendering="crispEdges"><use href="#g41" x="6" y="481"/><use href="#g4f" x="13" y="481"/><use href="#g63" x="21" y="481"/><use href="#g75" x="25" y="481"/><use href="#g73" x="30" y="481"/><use href="#g74" x="34" y="481"/><use href="#g2d" x="40" y="481"/><use href="#g31" x="43" y="481"/><use href="#g32" x="48" y="481"/><use href="#g2e" x="53" y="481"/><use href="#g37" x="56" y="481"/><use href="#g36" x="61" y="481"/><use href="#g30" x="66" y="481"/></g>
<g fill="#000" shape-rendering="crispEdges"><use href="#g41" x="6" y="583"/><use href="#g43" x="13" y="583"/><use href="#g63" x="20" y="583"/><use href="#g75" x="24" y="583"/><use href="#g73" x="29" y="583"/><use href="#g74" x="33" y="583"/><use href="#g31" x="39" y="583"/><use href="#g36" x="44" y="583"/><use href="#g2e" x="49" y="583"/><use href="#g33" x="52" y="583"/><use href="#g30" x="57" y="583"/><use href="#g36" x="62" y="583"/><use href="#g34" x="67" y="583"/></g>
<g fill="#000" shape-rendering="crispEdges"><use href="#g47" x="6" y="685"/><use href="#g61" x="13" y="685"/><use href="#g74" x="18" y="685"/><use href="#g6f" x="21" y="685"/><use href="#g72" x="26" y="685"/><use href="#g43" x="29" y="685"/><use href="#g75" x="36" y="685"/><use href="#g73" x="41" y="685"/><use href="#g74" x="45" y="685"/><use href="#g39" x="51" y="685"/><use href="#g2e" x="56" y="685"/><use href="#g31" x="59" y="685"/><use href="#g38" x="64" y="685"/><use href="#g37" x="69" y="685"/><use href="#g2d" x="77" y="685"/><use href="#g39" x="80" y="685"/><use href="#g2e" x="85" y="685"/><use href="#g36" x="88" y="685"/><use href="#g37" x="93" y="685"/><use href="#g30" x="98" y="685"/></g>
<g fill="#000" shape-rendering="crispEdges"><use href="#g32" x="2" y="785"/><use href="#g30" x="7" y="785"/><use href="#g4d" x="15" y="785"/><use href="#g61" x="23" y="785"/><use href="#g72" x="28" y="785"/><use href="#g32" x="34" y="785"/><use href="#g30" x="39" y="785"/><use href="#g32" x="44" y="785"/><use href="#g36" x="49" y="785"/></g>
<g fill="#000" shape-rendering="crispEdges"><use href="#g32" x="66" y="785"/><use href="#g33" x="71" y="785"/><use href="#g4d" x="79" y="785"/><use href="#g61" x="87" y="785"/><use href="#g72" x="92" y="785"/><use href="#g30" x="98" y="785"/><use href="#g30" x="103" y="785"/><use href="#g3a" x="108" y="785"/><use href="#g30" x="111" y="785"/><use href="#g30" x="116" y="785"/></g>
<g fill="#000" shape-rendering="crispEdges"><use href="#g32" x="130" y="785"/><use href="#g33" x="135" y="785"/><use href="#g4d" x="143" y="785"/><use href="#g61" x="151" y="785"/><use href="#g72" x="156" y="785"/><use href="#g30" x="162" y="785"/><use href="#g38" x="167" y="785"/><use href="#g3a" x="172" y="785"/><use href="#g30" x="175" y="785"/><use href="#g30" x="180" y="785"/></g>
<g fill="#000" shape-rendering="crispEdges"><use href="#g32" x="194" y="785"/><use href="#g33" x="199" y="785"/><use href="#g4d" x="207" y="785"/><use href="#g61" x="215" y="785"/><use href="#g72" x="220" y="785"/><use href="#g31" x="226" y="785"/><use href="#g36" x="231" y="785"/><use href="#g3a" x="236" y="785"/><use href="#g30" x="239" y="785"/><use href="#g30" x="244" y="785"/></g>
<g fill="#000" shape-rendering="crispEdges"><use href="#g32" x="258" y="785"/><use href="#g34" x="263" y="785"/><use href="#g4d" x="271" y="785"/><use href="#g61" x="279" y="785"/><use href="#g72" x="284" y="785"/><use href="#g30" x="290" y="785"/><use href="#g31" x="295" y="785"/><use href="#g3a" x="300" y="785"/><use href="#g30" x="303" y="785"/><use href="#g30" x="308" y="785"/></g>
<g fill="#000" shape-rendering="crispEdges"><use href="#g32" x="322" y="785"/><use href="#g34" x="327" y="785"/><use href="#g4d" x="335" y="785"/><use href="#g61" x="343" y="785"/><use href="#g72" x="348" y="785"/><use href="#g30" x="354" y="785"/><use href="#g39" x="359" y="785"/><use href="#g3a" x="364" y="785"/><use href="#g30" x="367" y="785"/><use href="#g30" x="372" y="785"/></g>
<g fill="#000" shape-rendering="crispEdges"><use href="#g32" x="386" y="785"/><use href="#g34" x="391" y="785"/><use href="#g4d" x="399" y="785"/><use href="#g61" x="407" y="785"/><use href="#g72" x="412" y="785"/><use href="#g31" x="418" y="785"/><use href="#g37" x="423" y="785"/><use href="#g3a" x="428" y="785"/><use href="#g30" x="431" y="785"/><use href="#g30" x="436" y="785"/></g>
<g fill="#000" shape-rendering="crispEdges"><use href="#g32" x="450" y="785"/><use href="#g35" x="455" y="785"/><use href="#g4d" x="463" y="785"/><use href="#g61" x="471" y="785"/><use href="#g72" x="476" y="785"/><use href="#g30" x="482" y="785"/><use href="#g32" x="487" y="785"/><use href="#g3a" x="492" y="785"/><use href="#g30" x="495" y="785"/><use href="#g30" x="500" y="785"/></g>
<g fill="#000" shape-rendering="crispEdges"><use href="#g32" x="514" y="785"/><use href="#g35" x="519" y="785"/><use href="#g4d" x="527" y="785"/><use href="#g61" x="535" y="785"/><use href="#g72" x="540" y="785"/><use href="#g31" x="546" y="785"/><use href="#g30" x="551" y="785"/><use href="#g3a" x="556" y="785"/><use href="#g30" x="559" y="785"/><use href="#g30" x="564" y="785"/></g>
<g fill="#000" shape-rendering="crispEdges"><use href="#g32" x="578" y="785"/><use href="#g35" x="583" y="785"/><use href="#g4d" x="591" y="785"/><use href="#g61" x="599" y="785"/><use href="#g72" x="604" y="785"/><use href="#g31" x="610" y="785"/><use href="#g38" x="615" y="785"/><use href="#g3a" x="620" y="785"/><use href="#g30" x="623" y="785"/><use href="#g30" x="628" y="785"/></g>
<g fill="#000" shape-rendering="crispEdges"><use href="#g32" x="642" y="785"/><use href="#g36" x="647" y="785"/><use href="#g4d" x="655" y="785"/><use href="#g61" x="663" y="785"/><use href="#g72" x="668" y="785"/><use href="#g30" x="674" y="785"/><use href="#g33" x="679" y="785"/><use href="#g3a" x="684" y="785"/><use href="#g30" x="687" y="785"/><use href="#g30" x="692" y="785"/></g>
<g fill="#000" shape-rendering="crispEdges"><use href="#g32" x="706" y="785"/><use href="#g36" x="711" y="785"/><use href="#g4d" x="719" y="785"/><use href="#g61" x="727" y="785"/><use href="#g72" x="732" y="785"/><use href="#g31" x="738" y="785"/><use href="#g31" x="743" y="785"/><use href="#g3a" x="748" y="785"/><use href="#g30" x="751" y="785"/><use href="#g30" x="756" y="785"/></g>
<g fill="#000" shape-rendering="crispEdges"><use href="#g32" x="770" y="785"/><use href="#g36" x="775" y="785"/><use href="#g4d" x="783" y="785"/><use href="#g61" x="791" y="785"/><use href="#g72" x="796" y="785"/><use href="#g31" x="802" y="785"/><use href="#g39" x="807" y="785"/><use href="#g3a" x="812" y="785"/><use href="#g30" x="815" y="785"/><use href="#g30" x="820" y="785"/></g>
<g fill="#000" shape-rendering="crispEdges"><use href="#g32" x="834" y="785"/><use href="#g37" x="839" y="785"/><use href="#g4d" x="847" y="785"/><use href="#g61" x="855" y="785"/><use href="#g72" x="860" y="785"/><use href="#g30" x="866" y="785"/><use href="#g34" x="871" y="785"/><use href="#g3a" x="876" y="785"/><use href="#g30" x="879" y="785"/><use href="#g30" x="884" y="785"/></g>
<g fill="#000" shape-rendering="crispEdges"><use href="#g32" x="898" y="785"/><use href="#g37" x="903" y="785"/><use href="#g4d" x="911" y="785"/><use href="#g61" x="919" y="785"/><use href="#g72" x="924" y="785"/><use href="#g31" x="930" y="785"/><use href="#g32" x="935" y="785"/><use href="#g3a" x="940" y="785"/><use href="#g30" x="943" y="785"/><use href="#g30" x="948" y="785"/></g>
<g fill="#000" shape-rendering="crispEdges"><use href="#g32" x="962" y="785"/><use href="#g37" x="967" y="785"/><use href="#g4d" x="975" y="785"/><use href="#g61" x="983" y="785"/><use href="#g72" x="988" y="785"/><use href="#g32" x="994" y="785"/><use href="#g30" x="999" y="785"/><use href="#g3a" x="1004" y="785"/><use href="#g30" x="1007" y="785"/><use href="#g30" x="1012" y="785"/></g>
<g fill="#000" shape-rendering="crispEdges"><use href="#g33" x="1026" y="785"/><use href="#g30" x="1031" y="785"/><use href="#g4d" x="1039" y="785"/><use href="#g61" x="1047" y="785"/><use href="#g72" x="1052" y="785"/><use href="#g30" x="1058" y="785"/><use href="#g36" x="1063" y="785"/><use href="#g3a" x="1068" y="785"/><use href="#g30" x="1071" y="785"/><use href="#g30" x="1076" y="785"/></g>
<g fill="#000" shape-rendering="crispEdges"><use href="#g33" x="1090" y="785"/><use href="#g30" x="1095" y="785"/><use href="#g4d" x="1103" y="785"/><use href="#g61" x="1111" y="785"/><use href="#g72" x="1116" y="785"/><use href="#g31" x="1122" y="785"/><use href="#g34" x="1127" y="785"/><use href="#g3a" x="1132" y="785"/><use href="#g30" x="1135" y="785"/><use href="#g30" x="1140" y="785"/></g>
</svg></body></html>
